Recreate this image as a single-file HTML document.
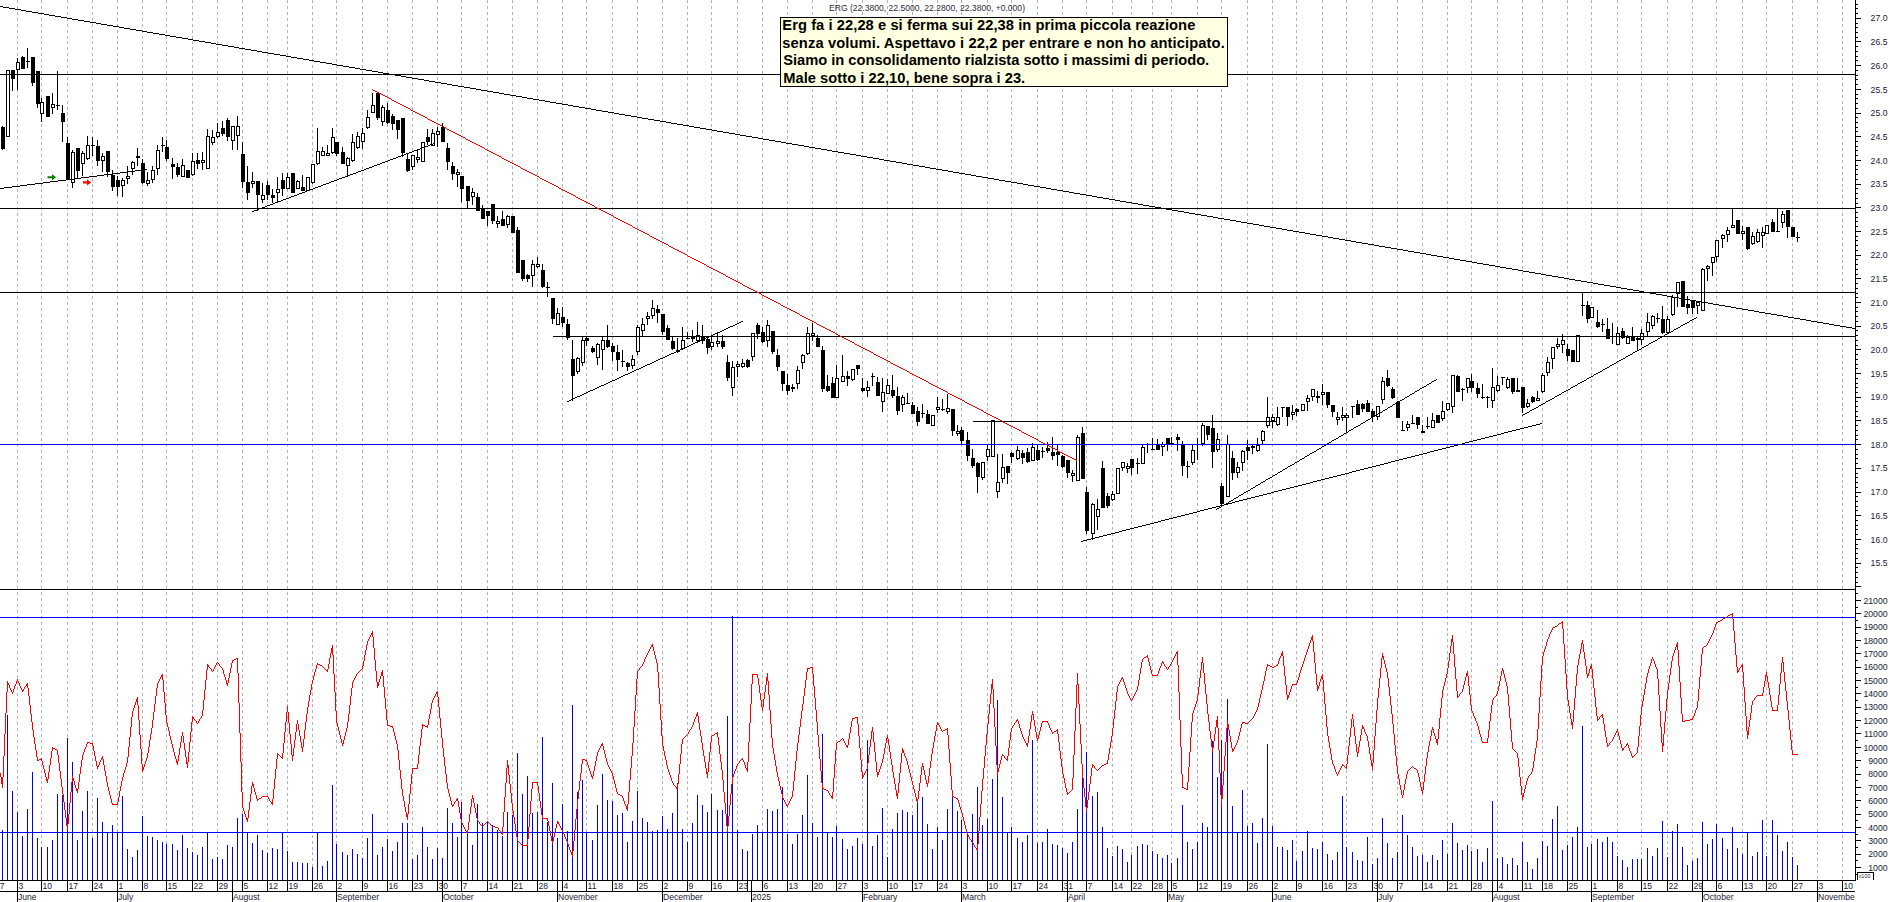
<!DOCTYPE html>
<html><head><meta charset="utf-8"><title>ERG</title>
<style>html,body{margin:0;padding:0;background:#fff;overflow:hidden}body{width:1890px;height:902px;position:relative}</style></head>
<body>
<svg width="1890" height="902" viewBox="0 0 1890 902" shape-rendering="crispEdges" style="display:block;position:absolute;left:0;top:0">
<rect x="0" y="0" width="1890" height="902" fill="#fff"/>
<g stroke="#b4b4b4" stroke-width="1" stroke-dasharray="3 2.92">
<line x1="17.5" y1="0" x2="17.5" y2="880"/>
<line x1="41.5" y1="0" x2="41.5" y2="880"/>
<line x1="67.5" y1="0" x2="67.5" y2="880"/>
<line x1="92.5" y1="0" x2="92.5" y2="880"/>
<line x1="117.5" y1="0" x2="117.5" y2="880"/>
<line x1="142.5" y1="0" x2="142.5" y2="880"/>
<line x1="166.5" y1="0" x2="166.5" y2="880"/>
<line x1="192.5" y1="0" x2="192.5" y2="880"/>
<line x1="217.5" y1="0" x2="217.5" y2="880"/>
<line x1="242.5" y1="0" x2="242.5" y2="880"/>
<line x1="267.5" y1="0" x2="267.5" y2="880"/>
<line x1="287.5" y1="0" x2="287.5" y2="880"/>
<line x1="312.5" y1="0" x2="312.5" y2="880"/>
<line x1="336.5" y1="0" x2="336.5" y2="880"/>
<line x1="362.5" y1="0" x2="362.5" y2="880"/>
<line x1="387.5" y1="0" x2="387.5" y2="880"/>
<line x1="412.5" y1="0" x2="412.5" y2="880"/>
<line x1="437.5" y1="0" x2="437.5" y2="880"/>
<line x1="461.5" y1="0" x2="461.5" y2="880"/>
<line x1="487.5" y1="0" x2="487.5" y2="880"/>
<line x1="512.5" y1="0" x2="512.5" y2="880"/>
<line x1="537.5" y1="0" x2="537.5" y2="880"/>
<line x1="562.5" y1="0" x2="562.5" y2="880"/>
<line x1="586.5" y1="0" x2="586.5" y2="880"/>
<line x1="612.5" y1="0" x2="612.5" y2="880"/>
<line x1="637.5" y1="0" x2="637.5" y2="880"/>
<line x1="662.5" y1="0" x2="662.5" y2="880"/>
<line x1="687.5" y1="0" x2="687.5" y2="880"/>
<line x1="711.5" y1="0" x2="711.5" y2="880"/>
<line x1="737.5" y1="0" x2="737.5" y2="880"/>
<line x1="762.5" y1="0" x2="762.5" y2="880"/>
<line x1="787.5" y1="0" x2="787.5" y2="880"/>
<line x1="812.5" y1="0" x2="812.5" y2="880"/>
<line x1="836.5" y1="0" x2="836.5" y2="880"/>
<line x1="862.5" y1="0" x2="862.5" y2="880"/>
<line x1="887.5" y1="0" x2="887.5" y2="880"/>
<line x1="912.5" y1="0" x2="912.5" y2="880"/>
<line x1="937.5" y1="0" x2="937.5" y2="880"/>
<line x1="961.5" y1="0" x2="961.5" y2="880"/>
<line x1="987.5" y1="0" x2="987.5" y2="880"/>
<line x1="1011.5" y1="0" x2="1011.5" y2="880"/>
<line x1="1037.5" y1="0" x2="1037.5" y2="880"/>
<line x1="1062.5" y1="0" x2="1062.5" y2="880"/>
<line x1="1086.5" y1="0" x2="1086.5" y2="880"/>
<line x1="1112.5" y1="0" x2="1112.5" y2="880"/>
<line x1="1131.5" y1="0" x2="1131.5" y2="880"/>
<line x1="1152.5" y1="0" x2="1152.5" y2="880"/>
<line x1="1171.5" y1="0" x2="1171.5" y2="880"/>
<line x1="1197.5" y1="0" x2="1197.5" y2="880"/>
<line x1="1221.5" y1="0" x2="1221.5" y2="880"/>
<line x1="1247.5" y1="0" x2="1247.5" y2="880"/>
<line x1="1272.5" y1="0" x2="1272.5" y2="880"/>
<line x1="1296.5" y1="0" x2="1296.5" y2="880"/>
<line x1="1322.5" y1="0" x2="1322.5" y2="880"/>
<line x1="1346.5" y1="0" x2="1346.5" y2="880"/>
<line x1="1372.5" y1="0" x2="1372.5" y2="880"/>
<line x1="1397.5" y1="0" x2="1397.5" y2="880"/>
<line x1="1422.5" y1="0" x2="1422.5" y2="880"/>
<line x1="1447.5" y1="0" x2="1447.5" y2="880"/>
<line x1="1471.5" y1="0" x2="1471.5" y2="880"/>
<line x1="1497.5" y1="0" x2="1497.5" y2="880"/>
<line x1="1522.5" y1="0" x2="1522.5" y2="880"/>
<line x1="1542.5" y1="0" x2="1542.5" y2="880"/>
<line x1="1567.5" y1="0" x2="1567.5" y2="880"/>
<line x1="1591.5" y1="0" x2="1591.5" y2="880"/>
<line x1="1617.5" y1="0" x2="1617.5" y2="880"/>
<line x1="1641.5" y1="0" x2="1641.5" y2="880"/>
<line x1="1667.5" y1="0" x2="1667.5" y2="880"/>
<line x1="1692.5" y1="0" x2="1692.5" y2="880"/>
<line x1="1716.5" y1="0" x2="1716.5" y2="880"/>
<line x1="1742.5" y1="0" x2="1742.5" y2="880"/>
<line x1="1766.5" y1="0" x2="1766.5" y2="880"/>
<line x1="1792.5" y1="0" x2="1792.5" y2="880"/>
<line x1="1817.5" y1="0" x2="1817.5" y2="880"/>
<line x1="1842.5" y1="0" x2="1842.5" y2="880"/>
</g>
<g fill="#000">
<rect x="2" y="126" width="1" height="24"/>
<rect x="1" y="127" width="4" height="22"/>
<rect x="7" y="70" width="1" height="67"/>
<rect x="6" y="70" width="4" height="67"/>
<rect x="12" y="70" width="1" height="21"/>
<rect x="11" y="70" width="4" height="9"/>
<rect x="17" y="58" width="1" height="32"/>
<rect x="16" y="62" width="4" height="8"/>
<rect x="22" y="56" width="1" height="13"/>
<rect x="21" y="57" width="4" height="12"/>
<rect x="27" y="48" width="1" height="20"/>
<rect x="26" y="61" width="4" height="1"/>
<rect x="32" y="57" width="1" height="29"/>
<rect x="31" y="57" width="4" height="26"/>
<rect x="37" y="71" width="1" height="37"/>
<rect x="36" y="71" width="4" height="33"/>
<rect x="41" y="98" width="1" height="24"/>
<rect x="40" y="102" width="4" height="12"/>
<rect x="47" y="96" width="1" height="21"/>
<rect x="46" y="96" width="4" height="21"/>
<rect x="52" y="93" width="1" height="21"/>
<rect x="51" y="104" width="4" height="4"/>
<rect x="57" y="71" width="1" height="39"/>
<rect x="56" y="105" width="4" height="1"/>
<rect x="62" y="105" width="1" height="37"/>
<rect x="61" y="113" width="4" height="9"/>
<rect x="67" y="137" width="1" height="43"/>
<rect x="66" y="143" width="4" height="37"/>
<rect x="72" y="150" width="1" height="38"/>
<rect x="71" y="152" width="4" height="31"/>
<rect x="77" y="148" width="1" height="31"/>
<rect x="76" y="148" width="4" height="23"/>
<rect x="82" y="151" width="1" height="25"/>
<rect x="81" y="153" width="4" height="11"/>
<rect x="87" y="136" width="1" height="24"/>
<rect x="86" y="145" width="4" height="14"/>
<rect x="92" y="137" width="1" height="19"/>
<rect x="91" y="145" width="4" height="1"/>
<rect x="97" y="140" width="1" height="26"/>
<rect x="96" y="146" width="4" height="15"/>
<rect x="102" y="153" width="1" height="19"/>
<rect x="101" y="156" width="4" height="5"/>
<rect x="107" y="151" width="1" height="26"/>
<rect x="106" y="151" width="4" height="21"/>
<rect x="112" y="170" width="1" height="21"/>
<rect x="111" y="175" width="4" height="12"/>
<rect x="117" y="176" width="1" height="20"/>
<rect x="116" y="180" width="4" height="7"/>
<rect x="122" y="178" width="1" height="19"/>
<rect x="121" y="180" width="4" height="6"/>
<rect x="127" y="166" width="1" height="18"/>
<rect x="126" y="176" width="4" height="3"/>
<rect x="132" y="161" width="1" height="14"/>
<rect x="131" y="162" width="4" height="7"/>
<rect x="137" y="148" width="1" height="18"/>
<rect x="136" y="156" width="4" height="2"/>
<rect x="142" y="159" width="1" height="25"/>
<rect x="141" y="163" width="4" height="20"/>
<rect x="147" y="172" width="1" height="14"/>
<rect x="146" y="180" width="4" height="4"/>
<rect x="152" y="166" width="1" height="17"/>
<rect x="151" y="170" width="4" height="10"/>
<rect x="157" y="145" width="1" height="30"/>
<rect x="156" y="150" width="4" height="19"/>
<rect x="162" y="137" width="1" height="15"/>
<rect x="161" y="145" width="4" height="1"/>
<rect x="166" y="140" width="1" height="21"/>
<rect x="165" y="147" width="4" height="12"/>
<rect x="172" y="158" width="1" height="21"/>
<rect x="171" y="164" width="4" height="3"/>
<rect x="177" y="163" width="1" height="14"/>
<rect x="176" y="167" width="4" height="8"/>
<rect x="182" y="159" width="1" height="18"/>
<rect x="181" y="165" width="4" height="12"/>
<rect x="187" y="170" width="1" height="8"/>
<rect x="186" y="170" width="4" height="8"/>
<rect x="192" y="153" width="1" height="23"/>
<rect x="191" y="161" width="4" height="14"/>
<rect x="197" y="153" width="1" height="16"/>
<rect x="196" y="160" width="4" height="4"/>
<rect x="202" y="152" width="1" height="18"/>
<rect x="201" y="160" width="4" height="3"/>
<rect x="207" y="129" width="1" height="40"/>
<rect x="206" y="136" width="4" height="33"/>
<rect x="212" y="130" width="1" height="15"/>
<rect x="211" y="137" width="4" height="6"/>
<rect x="217" y="123" width="1" height="15"/>
<rect x="216" y="132" width="4" height="5"/>
<rect x="222" y="121" width="1" height="15"/>
<rect x="221" y="128" width="4" height="6"/>
<rect x="227" y="118" width="1" height="23"/>
<rect x="226" y="120" width="4" height="17"/>
<rect x="232" y="126" width="1" height="24"/>
<rect x="231" y="126" width="4" height="15"/>
<rect x="237" y="116" width="1" height="34"/>
<rect x="236" y="126" width="4" height="10"/>
<rect x="242" y="142" width="1" height="46"/>
<rect x="241" y="154" width="4" height="28"/>
<rect x="247" y="166" width="1" height="34"/>
<rect x="246" y="182" width="4" height="11"/>
<rect x="252" y="172" width="1" height="16"/>
<rect x="251" y="181" width="4" height="3"/>
<rect x="257" y="181" width="1" height="30"/>
<rect x="256" y="181" width="4" height="14"/>
<rect x="262" y="183" width="1" height="20"/>
<rect x="261" y="195" width="4" height="5"/>
<rect x="267" y="181" width="1" height="19"/>
<rect x="266" y="185" width="4" height="10"/>
<rect x="272" y="189" width="1" height="14"/>
<rect x="271" y="195" width="4" height="3"/>
<rect x="277" y="177" width="1" height="25"/>
<rect x="276" y="189" width="4" height="4"/>
<rect x="282" y="173" width="1" height="23"/>
<rect x="281" y="180" width="4" height="9"/>
<rect x="287" y="173" width="1" height="16"/>
<rect x="286" y="177" width="4" height="12"/>
<rect x="292" y="173" width="1" height="20"/>
<rect x="291" y="173" width="4" height="20"/>
<rect x="297" y="180" width="1" height="9"/>
<rect x="296" y="181" width="4" height="8"/>
<rect x="302" y="175" width="1" height="16"/>
<rect x="301" y="187" width="4" height="4"/>
<rect x="307" y="177" width="1" height="14"/>
<rect x="306" y="177" width="4" height="14"/>
<rect x="312" y="164" width="1" height="20"/>
<rect x="311" y="164" width="4" height="19"/>
<rect x="317" y="128" width="1" height="37"/>
<rect x="316" y="151" width="4" height="13"/>
<rect x="322" y="147" width="1" height="9"/>
<rect x="321" y="151" width="4" height="5"/>
<rect x="327" y="145" width="1" height="11"/>
<rect x="326" y="153" width="4" height="3"/>
<rect x="332" y="128" width="1" height="26"/>
<rect x="331" y="137" width="4" height="16"/>
<rect x="336" y="142" width="1" height="14"/>
<rect x="335" y="142" width="4" height="12"/>
<rect x="342" y="147" width="1" height="17"/>
<rect x="341" y="152" width="4" height="12"/>
<rect x="347" y="157" width="1" height="20"/>
<rect x="346" y="158" width="4" height="8"/>
<rect x="352" y="134" width="1" height="28"/>
<rect x="351" y="142" width="4" height="19"/>
<rect x="357" y="132" width="1" height="17"/>
<rect x="356" y="136" width="4" height="12"/>
<rect x="362" y="128" width="1" height="21"/>
<rect x="361" y="133" width="4" height="9"/>
<rect x="367" y="110" width="1" height="19"/>
<rect x="366" y="117" width="4" height="11"/>
<rect x="372" y="93" width="1" height="20"/>
<rect x="371" y="105" width="4" height="8"/>
<rect x="377" y="93" width="1" height="27"/>
<rect x="376" y="93" width="4" height="25"/>
<rect x="382" y="105" width="1" height="21"/>
<rect x="381" y="107" width="4" height="15"/>
<rect x="387" y="103" width="1" height="21"/>
<rect x="386" y="110" width="4" height="13"/>
<rect x="392" y="114" width="1" height="16"/>
<rect x="391" y="116" width="4" height="8"/>
<rect x="397" y="120" width="1" height="19"/>
<rect x="396" y="120" width="4" height="10"/>
<rect x="402" y="118" width="1" height="39"/>
<rect x="401" y="118" width="4" height="35"/>
<rect x="407" y="154" width="1" height="18"/>
<rect x="406" y="159" width="4" height="12"/>
<rect x="412" y="155" width="1" height="15"/>
<rect x="411" y="155" width="4" height="12"/>
<rect x="417" y="150" width="1" height="13"/>
<rect x="416" y="157" width="4" height="3"/>
<rect x="422" y="142" width="1" height="20"/>
<rect x="421" y="142" width="4" height="20"/>
<rect x="427" y="129" width="1" height="16"/>
<rect x="426" y="137" width="4" height="5"/>
<rect x="432" y="129" width="1" height="17"/>
<rect x="431" y="133" width="4" height="13"/>
<rect x="437" y="127" width="1" height="20"/>
<rect x="436" y="131" width="4" height="4"/>
<rect x="442" y="123" width="1" height="19"/>
<rect x="441" y="127" width="4" height="15"/>
<rect x="447" y="143" width="1" height="27"/>
<rect x="446" y="148" width="4" height="14"/>
<rect x="452" y="162" width="1" height="18"/>
<rect x="451" y="166" width="4" height="8"/>
<rect x="457" y="169" width="1" height="18"/>
<rect x="456" y="172" width="4" height="3"/>
<rect x="461" y="176" width="1" height="26"/>
<rect x="460" y="176" width="4" height="13"/>
<rect x="467" y="186" width="1" height="22"/>
<rect x="466" y="186" width="4" height="15"/>
<rect x="472" y="188" width="1" height="17"/>
<rect x="471" y="192" width="4" height="5"/>
<rect x="477" y="193" width="1" height="18"/>
<rect x="476" y="197" width="4" height="14"/>
<rect x="482" y="205" width="1" height="14"/>
<rect x="481" y="208" width="4" height="11"/>
<rect x="487" y="211" width="1" height="15"/>
<rect x="486" y="211" width="4" height="5"/>
<rect x="492" y="204" width="1" height="20"/>
<rect x="491" y="204" width="4" height="17"/>
<rect x="497" y="216" width="1" height="12"/>
<rect x="496" y="221" width="4" height="3"/>
<rect x="502" y="211" width="1" height="15"/>
<rect x="501" y="219" width="4" height="7"/>
<rect x="507" y="215" width="1" height="13"/>
<rect x="506" y="216" width="4" height="9"/>
<rect x="512" y="216" width="1" height="17"/>
<rect x="511" y="216" width="4" height="17"/>
<rect x="517" y="227" width="1" height="46"/>
<rect x="516" y="230" width="4" height="43"/>
<rect x="522" y="260" width="1" height="21"/>
<rect x="521" y="260" width="4" height="19"/>
<rect x="527" y="274" width="1" height="8"/>
<rect x="526" y="275" width="4" height="4"/>
<rect x="532" y="260" width="1" height="27"/>
<rect x="531" y="264" width="4" height="12"/>
<rect x="537" y="257" width="1" height="11"/>
<rect x="536" y="264" width="4" height="3"/>
<rect x="542" y="264" width="1" height="24"/>
<rect x="541" y="270" width="4" height="17"/>
<rect x="547" y="282" width="1" height="15"/>
<rect x="546" y="287" width="4" height="1"/>
<rect x="552" y="298" width="1" height="26"/>
<rect x="551" y="298" width="4" height="21"/>
<rect x="557" y="308" width="1" height="17"/>
<rect x="556" y="313" width="4" height="12"/>
<rect x="562" y="307" width="1" height="20"/>
<rect x="561" y="317" width="4" height="6"/>
<rect x="567" y="319" width="1" height="21"/>
<rect x="566" y="324" width="4" height="14"/>
<rect x="572" y="340" width="1" height="61"/>
<rect x="571" y="359" width="4" height="17"/>
<rect x="577" y="357" width="1" height="17"/>
<rect x="576" y="358" width="4" height="14"/>
<rect x="582" y="337" width="1" height="29"/>
<rect x="581" y="340" width="4" height="23"/>
<rect x="586" y="337" width="1" height="9"/>
<rect x="585" y="338" width="4" height="3"/>
<rect x="592" y="346" width="1" height="7"/>
<rect x="591" y="348" width="4" height="4"/>
<rect x="597" y="343" width="1" height="22"/>
<rect x="596" y="344" width="4" height="14"/>
<rect x="602" y="336" width="1" height="34"/>
<rect x="601" y="340" width="4" height="10"/>
<rect x="607" y="325" width="1" height="23"/>
<rect x="606" y="340" width="4" height="7"/>
<rect x="612" y="343" width="1" height="18"/>
<rect x="611" y="346" width="4" height="6"/>
<rect x="617" y="345" width="1" height="26"/>
<rect x="616" y="352" width="4" height="8"/>
<rect x="622" y="350" width="1" height="17"/>
<rect x="621" y="361" width="4" height="1"/>
<rect x="627" y="362" width="1" height="9"/>
<rect x="626" y="363" width="4" height="4"/>
<rect x="632" y="355" width="1" height="14"/>
<rect x="631" y="359" width="4" height="7"/>
<rect x="637" y="325" width="1" height="30"/>
<rect x="636" y="327" width="4" height="25"/>
<rect x="642" y="318" width="1" height="18"/>
<rect x="641" y="324" width="4" height="7"/>
<rect x="647" y="312" width="1" height="13"/>
<rect x="646" y="316" width="4" height="3"/>
<rect x="652" y="300" width="1" height="19"/>
<rect x="651" y="308" width="4" height="8"/>
<rect x="657" y="305" width="1" height="18"/>
<rect x="656" y="309" width="4" height="4"/>
<rect x="662" y="314" width="1" height="21"/>
<rect x="661" y="314" width="4" height="18"/>
<rect x="667" y="325" width="1" height="15"/>
<rect x="666" y="328" width="4" height="12"/>
<rect x="672" y="337" width="1" height="13"/>
<rect x="671" y="341" width="4" height="8"/>
<rect x="677" y="338" width="1" height="15"/>
<rect x="676" y="350" width="4" height="2"/>
<rect x="682" y="327" width="1" height="23"/>
<rect x="681" y="340" width="4" height="9"/>
<rect x="687" y="332" width="1" height="7"/>
<rect x="686" y="338" width="4" height="1"/>
<rect x="692" y="330" width="1" height="12"/>
<rect x="691" y="337" width="4" height="2"/>
<rect x="697" y="322" width="1" height="20"/>
<rect x="696" y="335" width="4" height="6"/>
<rect x="702" y="325" width="1" height="19"/>
<rect x="701" y="337" width="4" height="4"/>
<rect x="707" y="337" width="1" height="17"/>
<rect x="706" y="339" width="4" height="9"/>
<rect x="711" y="335" width="1" height="15"/>
<rect x="710" y="342" width="4" height="5"/>
<rect x="717" y="332" width="1" height="15"/>
<rect x="716" y="341" width="4" height="3"/>
<rect x="722" y="335" width="1" height="14"/>
<rect x="721" y="341" width="4" height="6"/>
<rect x="727" y="355" width="1" height="26"/>
<rect x="726" y="362" width="4" height="16"/>
<rect x="732" y="361" width="1" height="35"/>
<rect x="731" y="367" width="4" height="21"/>
<rect x="737" y="361" width="1" height="16"/>
<rect x="736" y="364" width="4" height="3"/>
<rect x="742" y="359" width="1" height="9"/>
<rect x="741" y="363" width="4" height="4"/>
<rect x="747" y="359" width="1" height="9"/>
<rect x="746" y="360" width="4" height="7"/>
<rect x="752" y="333" width="1" height="28"/>
<rect x="751" y="333" width="4" height="24"/>
<rect x="757" y="323" width="1" height="16"/>
<rect x="756" y="325" width="4" height="9"/>
<rect x="762" y="327" width="1" height="16"/>
<rect x="761" y="332" width="4" height="10"/>
<rect x="767" y="320" width="1" height="27"/>
<rect x="766" y="325" width="4" height="16"/>
<rect x="772" y="331" width="1" height="23"/>
<rect x="771" y="331" width="4" height="21"/>
<rect x="777" y="349" width="1" height="22"/>
<rect x="776" y="355" width="4" height="12"/>
<rect x="782" y="371" width="1" height="20"/>
<rect x="781" y="371" width="4" height="13"/>
<rect x="787" y="374" width="1" height="21"/>
<rect x="786" y="385" width="4" height="6"/>
<rect x="792" y="384" width="1" height="8"/>
<rect x="791" y="387" width="4" height="2"/>
<rect x="797" y="366" width="1" height="23"/>
<rect x="796" y="370" width="4" height="14"/>
<rect x="802" y="354" width="1" height="15"/>
<rect x="801" y="355" width="4" height="8"/>
<rect x="807" y="327" width="1" height="28"/>
<rect x="806" y="333" width="4" height="21"/>
<rect x="812" y="323" width="1" height="18"/>
<rect x="811" y="333" width="4" height="3"/>
<rect x="817" y="335" width="1" height="12"/>
<rect x="816" y="338" width="4" height="9"/>
<rect x="822" y="346" width="1" height="46"/>
<rect x="821" y="350" width="4" height="39"/>
<rect x="827" y="375" width="1" height="17"/>
<rect x="826" y="386" width="4" height="5"/>
<rect x="832" y="377" width="1" height="21"/>
<rect x="831" y="383" width="4" height="15"/>
<rect x="836" y="365" width="1" height="33"/>
<rect x="835" y="378" width="4" height="20"/>
<rect x="842" y="355" width="1" height="27"/>
<rect x="841" y="376" width="4" height="6"/>
<rect x="847" y="371" width="1" height="15"/>
<rect x="846" y="376" width="4" height="3"/>
<rect x="852" y="369" width="1" height="12"/>
<rect x="851" y="369" width="4" height="11"/>
<rect x="857" y="365" width="1" height="10"/>
<rect x="856" y="365" width="4" height="4"/>
<rect x="862" y="378" width="1" height="14"/>
<rect x="861" y="388" width="4" height="3"/>
<rect x="867" y="381" width="1" height="16"/>
<rect x="866" y="387" width="4" height="4"/>
<rect x="872" y="373" width="1" height="13"/>
<rect x="871" y="376" width="4" height="1"/>
<rect x="877" y="377" width="1" height="19"/>
<rect x="876" y="382" width="4" height="14"/>
<rect x="882" y="378" width="1" height="34"/>
<rect x="881" y="392" width="4" height="10"/>
<rect x="887" y="379" width="1" height="15"/>
<rect x="886" y="385" width="4" height="9"/>
<rect x="892" y="375" width="1" height="23"/>
<rect x="891" y="390" width="4" height="6"/>
<rect x="897" y="387" width="1" height="28"/>
<rect x="896" y="396" width="4" height="15"/>
<rect x="902" y="395" width="1" height="17"/>
<rect x="901" y="397" width="4" height="8"/>
<rect x="907" y="393" width="1" height="11"/>
<rect x="906" y="403" width="4" height="1"/>
<rect x="912" y="402" width="1" height="12"/>
<rect x="911" y="405" width="4" height="9"/>
<rect x="917" y="407" width="1" height="19"/>
<rect x="916" y="411" width="4" height="11"/>
<rect x="922" y="404" width="1" height="14"/>
<rect x="921" y="413" width="4" height="1"/>
<rect x="927" y="410" width="1" height="14"/>
<rect x="926" y="414" width="4" height="10"/>
<rect x="932" y="415" width="1" height="11"/>
<rect x="931" y="415" width="4" height="11"/>
<rect x="937" y="397" width="1" height="16"/>
<rect x="936" y="407" width="4" height="3"/>
<rect x="942" y="399" width="1" height="12"/>
<rect x="941" y="409" width="4" height="1"/>
<rect x="947" y="394" width="1" height="20"/>
<rect x="946" y="408" width="4" height="4"/>
<rect x="952" y="409" width="1" height="27"/>
<rect x="951" y="409" width="4" height="22"/>
<rect x="957" y="425" width="1" height="11"/>
<rect x="956" y="431" width="4" height="3"/>
<rect x="961" y="427" width="1" height="17"/>
<rect x="960" y="430" width="4" height="11"/>
<rect x="967" y="432" width="1" height="29"/>
<rect x="966" y="440" width="4" height="16"/>
<rect x="972" y="449" width="1" height="19"/>
<rect x="971" y="458" width="4" height="8"/>
<rect x="977" y="462" width="1" height="31"/>
<rect x="976" y="463" width="4" height="14"/>
<rect x="982" y="462" width="1" height="18"/>
<rect x="981" y="462" width="4" height="16"/>
<rect x="987" y="445" width="1" height="16"/>
<rect x="986" y="449" width="4" height="8"/>
<rect x="992" y="420" width="1" height="37"/>
<rect x="991" y="420" width="4" height="37"/>
<rect x="997" y="454" width="1" height="44"/>
<rect x="996" y="482" width="4" height="10"/>
<rect x="1002" y="454" width="1" height="29"/>
<rect x="1001" y="467" width="4" height="12"/>
<rect x="1007" y="466" width="1" height="18"/>
<rect x="1006" y="466" width="4" height="7"/>
<rect x="1011" y="452" width="1" height="11"/>
<rect x="1010" y="453" width="4" height="4"/>
<rect x="1017" y="446" width="1" height="14"/>
<rect x="1016" y="450" width="4" height="9"/>
<rect x="1022" y="450" width="1" height="14"/>
<rect x="1021" y="453" width="4" height="5"/>
<rect x="1027" y="448" width="1" height="15"/>
<rect x="1026" y="452" width="4" height="10"/>
<rect x="1032" y="443" width="1" height="18"/>
<rect x="1031" y="447" width="4" height="14"/>
<rect x="1037" y="445" width="1" height="16"/>
<rect x="1036" y="450" width="4" height="10"/>
<rect x="1042" y="447" width="1" height="11"/>
<rect x="1041" y="451" width="4" height="1"/>
<rect x="1047" y="442" width="1" height="11"/>
<rect x="1046" y="448" width="4" height="3"/>
<rect x="1052" y="437" width="1" height="23"/>
<rect x="1051" y="452" width="4" height="4"/>
<rect x="1057" y="445" width="1" height="21"/>
<rect x="1056" y="452" width="4" height="3"/>
<rect x="1062" y="455" width="1" height="13"/>
<rect x="1061" y="456" width="4" height="11"/>
<rect x="1067" y="460" width="1" height="18"/>
<rect x="1066" y="460" width="4" height="13"/>
<rect x="1072" y="470" width="1" height="12"/>
<rect x="1071" y="473" width="4" height="3"/>
<rect x="1077" y="435" width="1" height="46"/>
<rect x="1076" y="437" width="4" height="44"/>
<rect x="1082" y="427" width="1" height="52"/>
<rect x="1081" y="433" width="4" height="46"/>
<rect x="1086" y="487" width="1" height="47"/>
<rect x="1085" y="492" width="4" height="39"/>
<rect x="1092" y="503" width="1" height="37"/>
<rect x="1091" y="504" width="4" height="30"/>
<rect x="1097" y="499" width="1" height="31"/>
<rect x="1096" y="509" width="4" height="8"/>
<rect x="1102" y="461" width="1" height="47"/>
<rect x="1101" y="468" width="4" height="40"/>
<rect x="1107" y="493" width="1" height="15"/>
<rect x="1106" y="496" width="4" height="10"/>
<rect x="1112" y="491" width="1" height="10"/>
<rect x="1111" y="494" width="4" height="6"/>
<rect x="1117" y="468" width="1" height="26"/>
<rect x="1116" y="468" width="4" height="26"/>
<rect x="1122" y="462" width="1" height="9"/>
<rect x="1121" y="462" width="4" height="6"/>
<rect x="1127" y="463" width="1" height="10"/>
<rect x="1126" y="466" width="4" height="3"/>
<rect x="1131" y="459" width="1" height="16"/>
<rect x="1130" y="459" width="4" height="9"/>
<rect x="1137" y="458" width="1" height="16"/>
<rect x="1136" y="463" width="4" height="1"/>
<rect x="1142" y="445" width="1" height="19"/>
<rect x="1141" y="447" width="4" height="17"/>
<rect x="1147" y="443" width="1" height="10"/>
<rect x="1152" y="438" width="1" height="12"/>
<rect x="1151" y="449" width="4" height="1"/>
<rect x="1157" y="439" width="1" height="11"/>
<rect x="1156" y="445" width="4" height="5"/>
<rect x="1162" y="442" width="1" height="14"/>
<rect x="1161" y="444" width="4" height="3"/>
<rect x="1167" y="438" width="1" height="13"/>
<rect x="1166" y="438" width="4" height="6"/>
<rect x="1171" y="437" width="1" height="7"/>
<rect x="1170" y="443" width="4" height="1"/>
<rect x="1177" y="434" width="1" height="17"/>
<rect x="1176" y="437" width="4" height="3"/>
<rect x="1182" y="441" width="1" height="35"/>
<rect x="1181" y="445" width="4" height="21"/>
<rect x="1187" y="461" width="1" height="17"/>
<rect x="1186" y="466" width="4" height="1"/>
<rect x="1192" y="445" width="1" height="20"/>
<rect x="1191" y="450" width="4" height="13"/>
<rect x="1197" y="438" width="1" height="22"/>
<rect x="1196" y="444" width="4" height="1"/>
<rect x="1202" y="423" width="1" height="23"/>
<rect x="1201" y="425" width="4" height="19"/>
<rect x="1207" y="426" width="1" height="14"/>
<rect x="1206" y="426" width="4" height="9"/>
<rect x="1212" y="415" width="1" height="53"/>
<rect x="1211" y="428" width="4" height="24"/>
<rect x="1217" y="433" width="1" height="19"/>
<rect x="1216" y="439" width="4" height="11"/>
<rect x="1221" y="483" width="1" height="23"/>
<rect x="1220" y="486" width="4" height="18"/>
<rect x="1227" y="435" width="1" height="62"/>
<rect x="1226" y="444" width="4" height="53"/>
<rect x="1232" y="451" width="1" height="29"/>
<rect x="1231" y="458" width="4" height="15"/>
<rect x="1237" y="462" width="1" height="16"/>
<rect x="1236" y="467" width="4" height="6"/>
<rect x="1242" y="450" width="1" height="21"/>
<rect x="1241" y="451" width="4" height="12"/>
<rect x="1247" y="440" width="1" height="20"/>
<rect x="1246" y="447" width="4" height="4"/>
<rect x="1252" y="445" width="1" height="9"/>
<rect x="1251" y="446" width="4" height="2"/>
<rect x="1257" y="438" width="1" height="14"/>
<rect x="1256" y="445" width="4" height="6"/>
<rect x="1262" y="430" width="1" height="14"/>
<rect x="1261" y="431" width="4" height="10"/>
<rect x="1267" y="397" width="1" height="31"/>
<rect x="1266" y="417" width="4" height="9"/>
<rect x="1272" y="414" width="1" height="14"/>
<rect x="1271" y="417" width="4" height="4"/>
<rect x="1277" y="407" width="1" height="19"/>
<rect x="1276" y="417" width="4" height="8"/>
<rect x="1282" y="407" width="1" height="10"/>
<rect x="1281" y="407" width="4" height="1"/>
<rect x="1287" y="407" width="1" height="19"/>
<rect x="1286" y="407" width="4" height="10"/>
<rect x="1292" y="405" width="1" height="15"/>
<rect x="1291" y="412" width="4" height="3"/>
<rect x="1296" y="408" width="1" height="8"/>
<rect x="1295" y="409" width="4" height="3"/>
<rect x="1302" y="404" width="1" height="7"/>
<rect x="1301" y="404" width="4" height="7"/>
<rect x="1307" y="395" width="1" height="16"/>
<rect x="1306" y="398" width="4" height="4"/>
<rect x="1312" y="389" width="1" height="12"/>
<rect x="1311" y="389" width="4" height="8"/>
<rect x="1317" y="391" width="1" height="12"/>
<rect x="1316" y="396" width="4" height="2"/>
<rect x="1322" y="384" width="1" height="21"/>
<rect x="1321" y="392" width="4" height="3"/>
<rect x="1327" y="392" width="1" height="16"/>
<rect x="1326" y="392" width="4" height="13"/>
<rect x="1332" y="405" width="1" height="12"/>
<rect x="1331" y="405" width="4" height="7"/>
<rect x="1337" y="412" width="1" height="13"/>
<rect x="1336" y="417" width="4" height="3"/>
<rect x="1342" y="407" width="1" height="14"/>
<rect x="1341" y="415" width="4" height="3"/>
<rect x="1346" y="413" width="1" height="19"/>
<rect x="1345" y="415" width="4" height="3"/>
<rect x="1352" y="406" width="1" height="12"/>
<rect x="1351" y="406" width="4" height="1"/>
<rect x="1357" y="400" width="1" height="15"/>
<rect x="1356" y="404" width="4" height="11"/>
<rect x="1362" y="403" width="1" height="9"/>
<rect x="1361" y="404" width="4" height="5"/>
<rect x="1367" y="400" width="1" height="12"/>
<rect x="1366" y="403" width="4" height="9"/>
<rect x="1372" y="409" width="1" height="13"/>
<rect x="1371" y="411" width="4" height="6"/>
<rect x="1377" y="406" width="1" height="14"/>
<rect x="1376" y="406" width="4" height="11"/>
<rect x="1382" y="377" width="1" height="27"/>
<rect x="1381" y="381" width="4" height="19"/>
<rect x="1387" y="370" width="1" height="17"/>
<rect x="1386" y="378" width="4" height="8"/>
<rect x="1392" y="387" width="1" height="12"/>
<rect x="1391" y="389" width="4" height="9"/>
<rect x="1397" y="401" width="1" height="17"/>
<rect x="1396" y="402" width="4" height="16"/>
<rect x="1402" y="421" width="1" height="10"/>
<rect x="1401" y="430" width="4" height="1"/>
<rect x="1407" y="421" width="1" height="10"/>
<rect x="1406" y="424" width="4" height="4"/>
<rect x="1412" y="415" width="1" height="9"/>
<rect x="1411" y="423" width="4" height="1"/>
<rect x="1417" y="417" width="1" height="12"/>
<rect x="1416" y="417" width="4" height="8"/>
<rect x="1422" y="425" width="1" height="8"/>
<rect x="1421" y="431" width="4" height="2"/>
<rect x="1427" y="417" width="1" height="12"/>
<rect x="1426" y="426" width="4" height="1"/>
<rect x="1432" y="413" width="1" height="15"/>
<rect x="1431" y="420" width="4" height="8"/>
<rect x="1437" y="415" width="1" height="8"/>
<rect x="1436" y="415" width="4" height="8"/>
<rect x="1442" y="401" width="1" height="20"/>
<rect x="1441" y="411" width="4" height="8"/>
<rect x="1447" y="403" width="1" height="8"/>
<rect x="1446" y="403" width="4" height="7"/>
<rect x="1452" y="375" width="1" height="38"/>
<rect x="1451" y="375" width="4" height="32"/>
<rect x="1457" y="375" width="1" height="17"/>
<rect x="1456" y="376" width="4" height="16"/>
<rect x="1462" y="388" width="1" height="13"/>
<rect x="1461" y="389" width="4" height="1"/>
<rect x="1467" y="378" width="1" height="15"/>
<rect x="1466" y="378" width="4" height="10"/>
<rect x="1471" y="374" width="1" height="18"/>
<rect x="1470" y="381" width="4" height="7"/>
<rect x="1477" y="383" width="1" height="15"/>
<rect x="1476" y="388" width="4" height="6"/>
<rect x="1482" y="384" width="1" height="15"/>
<rect x="1481" y="397" width="4" height="1"/>
<rect x="1487" y="396" width="1" height="12"/>
<rect x="1486" y="397" width="4" height="1"/>
<rect x="1492" y="368" width="1" height="40"/>
<rect x="1491" y="387" width="4" height="14"/>
<rect x="1497" y="376" width="1" height="16"/>
<rect x="1496" y="385" width="4" height="6"/>
<rect x="1502" y="377" width="1" height="8"/>
<rect x="1501" y="377" width="4" height="1"/>
<rect x="1507" y="377" width="1" height="12"/>
<rect x="1506" y="379" width="4" height="9"/>
<rect x="1512" y="378" width="1" height="16"/>
<rect x="1511" y="378" width="4" height="14"/>
<rect x="1517" y="378" width="1" height="14"/>
<rect x="1516" y="390" width="4" height="2"/>
<rect x="1522" y="387" width="1" height="26"/>
<rect x="1521" y="387" width="4" height="21"/>
<rect x="1527" y="399" width="1" height="9"/>
<rect x="1526" y="403" width="4" height="4"/>
<rect x="1532" y="396" width="1" height="7"/>
<rect x="1531" y="397" width="4" height="5"/>
<rect x="1537" y="391" width="1" height="10"/>
<rect x="1536" y="398" width="4" height="3"/>
<rect x="1542" y="373" width="1" height="20"/>
<rect x="1541" y="375" width="4" height="17"/>
<rect x="1547" y="357" width="1" height="19"/>
<rect x="1546" y="362" width="4" height="11"/>
<rect x="1552" y="347" width="1" height="22"/>
<rect x="1551" y="347" width="4" height="12"/>
<rect x="1557" y="338" width="1" height="11"/>
<rect x="1556" y="344" width="4" height="3"/>
<rect x="1562" y="334" width="1" height="19"/>
<rect x="1561" y="340" width="4" height="5"/>
<rect x="1567" y="344" width="1" height="17"/>
<rect x="1566" y="349" width="4" height="7"/>
<rect x="1572" y="350" width="1" height="12"/>
<rect x="1571" y="350" width="4" height="12"/>
<rect x="1577" y="335" width="1" height="27"/>
<rect x="1576" y="335" width="4" height="27"/>
<rect x="1582" y="293" width="1" height="23"/>
<rect x="1581" y="305" width="4" height="1"/>
<rect x="1587" y="301" width="1" height="22"/>
<rect x="1586" y="305" width="4" height="14"/>
<rect x="1591" y="307" width="1" height="11"/>
<rect x="1590" y="307" width="4" height="11"/>
<rect x="1597" y="310" width="1" height="18"/>
<rect x="1596" y="322" width="4" height="5"/>
<rect x="1602" y="319" width="1" height="13"/>
<rect x="1601" y="324" width="4" height="1"/>
<rect x="1607" y="318" width="1" height="21"/>
<rect x="1606" y="329" width="4" height="10"/>
<rect x="1612" y="323" width="1" height="21"/>
<rect x="1617" y="327" width="1" height="18"/>
<rect x="1616" y="333" width="4" height="12"/>
<rect x="1622" y="328" width="1" height="11"/>
<rect x="1621" y="331" width="4" height="7"/>
<rect x="1627" y="335" width="1" height="9"/>
<rect x="1626" y="337" width="4" height="7"/>
<rect x="1632" y="327" width="1" height="14"/>
<rect x="1631" y="336" width="4" height="5"/>
<rect x="1637" y="337" width="1" height="13"/>
<rect x="1636" y="338" width="4" height="2"/>
<rect x="1641" y="329" width="1" height="16"/>
<rect x="1640" y="333" width="4" height="7"/>
<rect x="1647" y="313" width="1" height="24"/>
<rect x="1646" y="322" width="4" height="10"/>
<rect x="1652" y="315" width="1" height="14"/>
<rect x="1651" y="316" width="4" height="10"/>
<rect x="1657" y="313" width="1" height="10"/>
<rect x="1656" y="318" width="4" height="1"/>
<rect x="1662" y="306" width="1" height="28"/>
<rect x="1661" y="319" width="4" height="14"/>
<rect x="1667" y="316" width="1" height="17"/>
<rect x="1666" y="319" width="4" height="14"/>
<rect x="1672" y="295" width="1" height="21"/>
<rect x="1671" y="297" width="4" height="18"/>
<rect x="1677" y="282" width="1" height="25"/>
<rect x="1676" y="282" width="4" height="12"/>
<rect x="1682" y="281" width="1" height="26"/>
<rect x="1681" y="281" width="4" height="26"/>
<rect x="1687" y="296" width="1" height="18"/>
<rect x="1686" y="304" width="4" height="4"/>
<rect x="1692" y="301" width="1" height="13"/>
<rect x="1691" y="301" width="4" height="7"/>
<rect x="1697" y="301" width="1" height="13"/>
<rect x="1696" y="302" width="4" height="4"/>
<rect x="1702" y="268" width="1" height="43"/>
<rect x="1701" y="269" width="4" height="42"/>
<rect x="1707" y="265" width="1" height="16"/>
<rect x="1706" y="266" width="4" height="3"/>
<rect x="1712" y="257" width="1" height="19"/>
<rect x="1711" y="257" width="4" height="6"/>
<rect x="1716" y="240" width="1" height="22"/>
<rect x="1715" y="240" width="4" height="17"/>
<rect x="1722" y="234" width="1" height="14"/>
<rect x="1721" y="235" width="4" height="4"/>
<rect x="1727" y="227" width="1" height="15"/>
<rect x="1726" y="230" width="4" height="5"/>
<rect x="1732" y="208" width="1" height="19"/>
<rect x="1731" y="225" width="4" height="3"/>
<rect x="1737" y="220" width="1" height="14"/>
<rect x="1736" y="220" width="4" height="14"/>
<rect x="1742" y="226" width="1" height="14"/>
<rect x="1741" y="231" width="4" height="3"/>
<rect x="1747" y="227" width="1" height="23"/>
<rect x="1746" y="227" width="4" height="22"/>
<rect x="1752" y="232" width="1" height="13"/>
<rect x="1751" y="236" width="4" height="8"/>
<rect x="1757" y="229" width="1" height="14"/>
<rect x="1756" y="232" width="4" height="10"/>
<rect x="1762" y="227" width="1" height="21"/>
<rect x="1761" y="232" width="4" height="4"/>
<rect x="1766" y="225" width="1" height="9"/>
<rect x="1765" y="225" width="4" height="9"/>
<rect x="1772" y="219" width="1" height="13"/>
<rect x="1771" y="222" width="4" height="10"/>
<rect x="1777" y="208" width="1" height="24"/>
<rect x="1776" y="231" width="4" height="1"/>
<rect x="1782" y="211" width="1" height="17"/>
<rect x="1781" y="214" width="4" height="9"/>
<rect x="1787" y="210" width="1" height="28"/>
<rect x="1786" y="210" width="4" height="17"/>
<rect x="1792" y="227" width="1" height="10"/>
<rect x="1791" y="227" width="4" height="10"/>
<rect x="1797" y="232" width="1" height="10"/>
<rect x="1796" y="237" width="4" height="1"/>
</g>
<g fill="#fff"><rect x="7" y="71" width="2" height="65"/><rect x="17" y="63" width="2" height="6"/><rect x="41" y="103" width="2" height="10"/><rect x="52" y="105" width="2" height="2"/><rect x="72" y="153" width="2" height="29"/><rect x="82" y="154" width="2" height="9"/><rect x="87" y="146" width="2" height="12"/><rect x="102" y="157" width="2" height="3"/><rect x="122" y="181" width="2" height="4"/><rect x="127" y="177" width="2" height="1"/><rect x="132" y="163" width="2" height="5"/><rect x="147" y="181" width="2" height="2"/><rect x="152" y="171" width="2" height="8"/><rect x="157" y="151" width="2" height="17"/><rect x="182" y="166" width="2" height="10"/><rect x="192" y="162" width="2" height="12"/><rect x="202" y="161" width="2" height="1"/><rect x="207" y="137" width="2" height="31"/><rect x="212" y="138" width="2" height="4"/><rect x="217" y="133" width="2" height="3"/><rect x="232" y="127" width="2" height="13"/><rect x="237" y="127" width="2" height="8"/><rect x="252" y="182" width="2" height="1"/><rect x="262" y="196" width="2" height="3"/><rect x="277" y="190" width="2" height="2"/><rect x="287" y="178" width="2" height="10"/><rect x="297" y="182" width="2" height="6"/><rect x="307" y="178" width="2" height="12"/><rect x="312" y="165" width="2" height="17"/><rect x="317" y="152" width="2" height="11"/><rect x="322" y="152" width="2" height="3"/><rect x="327" y="154" width="2" height="1"/><rect x="332" y="138" width="2" height="14"/><rect x="347" y="159" width="2" height="6"/><rect x="352" y="143" width="2" height="17"/><rect x="357" y="137" width="2" height="10"/><rect x="362" y="134" width="2" height="7"/><rect x="367" y="118" width="2" height="9"/><rect x="372" y="106" width="2" height="6"/><rect x="382" y="108" width="2" height="13"/><rect x="412" y="156" width="2" height="10"/><rect x="417" y="158" width="2" height="1"/><rect x="422" y="143" width="2" height="18"/><rect x="432" y="134" width="2" height="11"/><rect x="437" y="132" width="2" height="2"/><rect x="457" y="173" width="2" height="1"/><rect x="472" y="193" width="2" height="3"/><rect x="497" y="222" width="2" height="1"/><rect x="507" y="217" width="2" height="7"/><rect x="532" y="265" width="2" height="10"/><rect x="537" y="265" width="2" height="1"/><rect x="557" y="314" width="2" height="10"/><rect x="577" y="359" width="2" height="12"/><rect x="582" y="341" width="2" height="21"/><rect x="597" y="345" width="2" height="12"/><rect x="602" y="341" width="2" height="8"/><rect x="632" y="360" width="2" height="5"/><rect x="637" y="328" width="2" height="23"/><rect x="642" y="325" width="2" height="5"/><rect x="647" y="317" width="2" height="1"/><rect x="652" y="309" width="2" height="6"/><rect x="682" y="341" width="2" height="7"/><rect x="697" y="336" width="2" height="4"/><rect x="711" y="343" width="2" height="3"/><rect x="717" y="342" width="2" height="1"/><rect x="732" y="368" width="2" height="19"/><rect x="737" y="365" width="2" height="1"/><rect x="742" y="364" width="2" height="2"/><rect x="752" y="334" width="2" height="22"/><rect x="767" y="326" width="2" height="14"/><rect x="797" y="371" width="2" height="12"/><rect x="802" y="356" width="2" height="6"/><rect x="807" y="334" width="2" height="19"/><rect x="812" y="334" width="2" height="1"/><rect x="836" y="379" width="2" height="18"/><rect x="842" y="377" width="2" height="4"/><rect x="852" y="370" width="2" height="9"/><rect x="867" y="388" width="2" height="2"/><rect x="882" y="393" width="2" height="8"/><rect x="887" y="386" width="2" height="7"/><rect x="902" y="398" width="2" height="6"/><rect x="932" y="416" width="2" height="9"/><rect x="937" y="408" width="2" height="1"/><rect x="947" y="409" width="2" height="2"/><rect x="957" y="432" width="2" height="1"/><rect x="982" y="463" width="2" height="14"/><rect x="987" y="450" width="2" height="6"/><rect x="992" y="421" width="2" height="35"/><rect x="997" y="483" width="2" height="8"/><rect x="1002" y="468" width="2" height="10"/><rect x="1017" y="451" width="2" height="7"/><rect x="1032" y="448" width="2" height="12"/><rect x="1072" y="474" width="2" height="1"/><rect x="1077" y="438" width="2" height="42"/><rect x="1092" y="505" width="2" height="28"/><rect x="1097" y="510" width="2" height="6"/><rect x="1112" y="495" width="2" height="4"/><rect x="1117" y="469" width="2" height="24"/><rect x="1122" y="463" width="2" height="4"/><rect x="1127" y="467" width="2" height="1"/><rect x="1142" y="448" width="2" height="15"/><rect x="1162" y="445" width="2" height="1"/><rect x="1192" y="451" width="2" height="11"/><rect x="1202" y="426" width="2" height="17"/><rect x="1217" y="440" width="2" height="9"/><rect x="1227" y="445" width="2" height="51"/><rect x="1237" y="468" width="2" height="4"/><rect x="1242" y="452" width="2" height="10"/><rect x="1257" y="446" width="2" height="4"/><rect x="1262" y="432" width="2" height="8"/><rect x="1267" y="418" width="2" height="7"/><rect x="1272" y="418" width="2" height="2"/><rect x="1277" y="418" width="2" height="6"/><rect x="1292" y="413" width="2" height="1"/><rect x="1302" y="405" width="2" height="5"/><rect x="1307" y="399" width="2" height="2"/><rect x="1312" y="390" width="2" height="6"/><rect x="1322" y="393" width="2" height="1"/><rect x="1337" y="418" width="2" height="1"/><rect x="1342" y="416" width="2" height="1"/><rect x="1346" y="416" width="2" height="1"/><rect x="1377" y="407" width="2" height="9"/><rect x="1382" y="382" width="2" height="17"/><rect x="1407" y="425" width="2" height="2"/><rect x="1432" y="421" width="2" height="6"/><rect x="1442" y="412" width="2" height="6"/><rect x="1447" y="404" width="2" height="5"/><rect x="1452" y="376" width="2" height="30"/><rect x="1467" y="379" width="2" height="8"/><rect x="1492" y="388" width="2" height="12"/><rect x="1497" y="386" width="2" height="4"/><rect x="1507" y="380" width="2" height="7"/><rect x="1527" y="404" width="2" height="2"/><rect x="1537" y="399" width="2" height="1"/><rect x="1542" y="376" width="2" height="15"/><rect x="1547" y="363" width="2" height="9"/><rect x="1552" y="348" width="2" height="10"/><rect x="1557" y="345" width="2" height="1"/><rect x="1562" y="341" width="2" height="3"/><rect x="1577" y="336" width="2" height="25"/><rect x="1591" y="308" width="2" height="9"/><rect x="1617" y="334" width="2" height="10"/><rect x="1627" y="338" width="2" height="5"/><rect x="1641" y="334" width="2" height="5"/><rect x="1647" y="323" width="2" height="8"/><rect x="1652" y="317" width="2" height="8"/><rect x="1667" y="320" width="2" height="12"/><rect x="1672" y="298" width="2" height="16"/><rect x="1677" y="283" width="2" height="10"/><rect x="1697" y="303" width="2" height="2"/><rect x="1702" y="270" width="2" height="40"/><rect x="1707" y="267" width="2" height="1"/><rect x="1712" y="258" width="2" height="4"/><rect x="1716" y="241" width="2" height="15"/><rect x="1722" y="236" width="2" height="2"/><rect x="1727" y="231" width="2" height="3"/><rect x="1732" y="226" width="2" height="1"/><rect x="1742" y="232" width="2" height="1"/><rect x="1752" y="237" width="2" height="6"/><rect x="1757" y="233" width="2" height="8"/><rect x="1762" y="233" width="2" height="2"/><rect x="1766" y="226" width="2" height="7"/><rect x="1782" y="215" width="2" height="7"/></g>
<rect x="0" y="74" width="1855" height="1" fill="#000"/>
<rect x="0" y="208" width="1855" height="1" fill="#000"/>
<rect x="0" y="292" width="1855" height="1" fill="#000"/>
<rect x="553" y="336" width="1302" height="1" fill="#000"/>
<rect x="973" y="421" width="304" height="1" fill="#000"/>
<rect x="0" y="589" width="1855" height="1" fill="#000"/>
<rect x="0" y="444" width="1855" height="1" fill="#00f"/>
<rect x="0" y="617" width="1855" height="1" fill="#00f"/>
<rect x="0" y="832" width="1855" height="1" fill="#00f"/>
<path d="M0 6.5h3M3 7.5h6M9 8.5h6M15 9.5h6M21 10.5h5M26 11.5h6M32 12.5h6M38 13.5h6M44 14.5h5M49 15.5h6M55 16.5h6M61 17.5h6M67 18.5h5M72 19.5h6M78 20.5h6M84 21.5h6M90 22.5h6M96 23.5h5M101 24.5h6M107 25.5h6M113 26.5h6M119 27.5h5M124 28.5h6M130 29.5h6M136 30.5h6M142 31.5h5M147 32.5h6M153 33.5h6M159 34.5h6M165 35.5h5M170 36.5h6M176 37.5h6M182 38.5h6M188 39.5h5M193 40.5h6M199 41.5h6M205 42.5h6M211 43.5h5M216 44.5h6M222 45.5h6M228 46.5h6M234 47.5h5M239 48.5h6M245 49.5h6M251 50.5h6M257 51.5h5M262 52.5h6M268 53.5h6M274 54.5h6M280 55.5h6M286 56.5h5M291 57.5h6M297 58.5h6M303 59.5h6M309 60.5h5M314 61.5h6M320 62.5h6M326 63.5h6M332 64.5h5M337 65.5h6M343 66.5h6M349 67.5h6M355 68.5h5M360 69.5h6M366 70.5h6M372 71.5h6M378 72.5h5M383 73.5h6M389 74.5h6M395 75.5h6M401 76.5h5M406 77.5h6M412 78.5h6M418 79.5h6M424 80.5h5M429 81.5h6M435 82.5h6M441 83.5h6M447 84.5h5M452 85.5h6M458 86.5h6M464 87.5h6M470 88.5h6M476 89.5h5M481 90.5h6M487 91.5h6M493 92.5h6M499 93.5h5M504 94.5h6M510 95.5h6M516 96.5h6M522 97.5h5M527 98.5h6M533 99.5h6M539 100.5h6M545 101.5h5M550 102.5h6M556 103.5h6M562 104.5h6M568 105.5h5M573 106.5h6M579 107.5h6M585 108.5h6M591 109.5h5M596 110.5h6M602 111.5h6M608 112.5h6M614 113.5h5M619 114.5h6M625 115.5h6M631 116.5h6M637 117.5h5M642 118.5h6M648 119.5h6M654 120.5h6M660 121.5h6M666 122.5h5M671 123.5h6M677 124.5h6M683 125.5h6M689 126.5h5M694 127.5h6M700 128.5h6M706 129.5h6M712 130.5h5M717 131.5h6M723 132.5h6M729 133.5h6M735 134.5h5M740 135.5h6M746 136.5h6M752 137.5h6M758 138.5h5M763 139.5h6M769 140.5h6M775 141.5h6M781 142.5h5M433 143.5h2M786 143.5h6M430 144.5h3M792 144.5h6M428 145.5h2M798 145.5h6M425 146.5h3M804 146.5h5M422 147.5h3M809 147.5h6M420 148.5h2M815 148.5h6M417 149.5h3M821 149.5h6M414 150.5h3M827 150.5h5M412 151.5h2M832 151.5h6M409 152.5h3M838 152.5h6M406 153.5h3M844 153.5h6M404 154.5h2M850 154.5h6M401 155.5h3M856 155.5h5M398 156.5h3M861 156.5h6M396 157.5h2M867 157.5h6M393 158.5h3M873 158.5h6M390 159.5h3M879 159.5h5M388 160.5h2M884 160.5h6M385 161.5h3M890 161.5h6M382 162.5h3M896 162.5h6M380 163.5h2M902 163.5h5M377 164.5h3M907 164.5h6M374 165.5h3M913 165.5h6M372 166.5h2M919 166.5h6M369 167.5h3M925 167.5h5M366 168.5h3M930 168.5h6M143 169.5h4M364 169.5h2M936 169.5h6M135 170.5h8M361 170.5h3M942 170.5h6M127 171.5h8M358 171.5h3M948 171.5h5M120 172.5h7M356 172.5h2M953 172.5h6M112 173.5h8M353 173.5h3M959 173.5h6M104 174.5h8M350 174.5h3M965 174.5h6M97 175.5h7M348 175.5h2M971 175.5h5M89 176.5h8M345 176.5h3M976 176.5h6M81 177.5h8M342 177.5h3M982 177.5h6M74 178.5h7M339 178.5h3M988 178.5h6M66 179.5h8M337 179.5h2M994 179.5h5M58 180.5h8M334 180.5h3M999 180.5h6M50 181.5h8M331 181.5h3M1005 181.5h6M43 182.5h7M329 182.5h2M1011 182.5h6M35 183.5h8M326 183.5h3M1017 183.5h6M27 184.5h8M323 184.5h3M1023 184.5h5M20 185.5h7M321 185.5h2M1028 185.5h6M12 186.5h8M318 186.5h3M1034 186.5h6M4 187.5h8M315 187.5h3M1040 187.5h6M0 188.5h4M313 188.5h2M1046 188.5h5M310 189.5h3M1051 189.5h6M307 190.5h3M1057 190.5h6M305 191.5h2M1063 191.5h6M302 192.5h3M1069 192.5h5M299 193.5h3M1074 193.5h6M297 194.5h2M1080 194.5h6M294 195.5h3M1086 195.5h6M291 196.5h3M1092 196.5h5M289 197.5h2M1097 197.5h6M286 198.5h3M1103 198.5h6M283 199.5h3M1109 199.5h6M281 200.5h2M1115 200.5h5M278 201.5h3M1120 201.5h6M275 202.5h3M1126 202.5h6M273 203.5h2M1132 203.5h6M270 204.5h3M1138 204.5h5M267 205.5h3M1143 205.5h6M265 206.5h2M1149 206.5h6M262 207.5h3M1155 207.5h6M259 208.5h3M1161 208.5h5M257 209.5h2M1166 209.5h6M254 210.5h3M1172 210.5h6M252 211.5h2M1178 211.5h6M1184 212.5h5M1189 213.5h6M1195 214.5h6M1201 215.5h6M1207 216.5h6M1213 217.5h5M1218 218.5h6M1224 219.5h6M1230 220.5h6M1236 221.5h5M1241 222.5h6M1247 223.5h6M1253 224.5h6M1259 225.5h5M1264 226.5h6M1270 227.5h6M1276 228.5h6M1282 229.5h5M1287 230.5h6M1293 231.5h6M1299 232.5h6M1305 233.5h5M1310 234.5h6M1316 235.5h6M1322 236.5h6M1328 237.5h5M1333 238.5h6M1339 239.5h6M1345 240.5h6M1351 241.5h5M1356 242.5h6M1362 243.5h6M1368 244.5h6M1374 245.5h5M1379 246.5h6M1385 247.5h6M1391 248.5h6M1397 249.5h6M1403 250.5h5M1408 251.5h6M1414 252.5h6M1420 253.5h6M1426 254.5h5M1431 255.5h6M1437 256.5h6M1443 257.5h6M1449 258.5h5M1454 259.5h6M1460 260.5h6M1466 261.5h6M1472 262.5h5M1477 263.5h6M1483 264.5h6M1489 265.5h6M1495 266.5h5M1500 267.5h6M1506 268.5h6M1512 269.5h6M1518 270.5h5M1523 271.5h6M1529 272.5h6M1535 273.5h6M1541 274.5h5M1546 275.5h6M1552 276.5h6M1558 277.5h6M1564 278.5h5M1569 279.5h6M1575 280.5h6M1581 281.5h6M1587 282.5h6M1593 283.5h5M1598 284.5h6M1604 285.5h6M1610 286.5h6M1616 287.5h5M1621 288.5h6M1627 289.5h6M1633 290.5h6M1639 291.5h5M1644 292.5h6M1650 293.5h6M1656 294.5h6M1662 295.5h5M1667 296.5h6M1673 297.5h6M1679 298.5h6M1685 299.5h5M1690 300.5h6M1696 301.5h6M1702 302.5h6M1708 303.5h5M1713 304.5h6M1719 305.5h6M1725 306.5h6M1731 307.5h5M1736 308.5h6M1742 309.5h6M1748 310.5h6M1754 311.5h5M1759 312.5h6M1765 313.5h6M1771 314.5h6M1777 315.5h6M1783 316.5h5M1788 317.5h6M1694 318.5h2M1794 318.5h6M1692 319.5h2M1800 319.5h6M1690 320.5h2M1806 320.5h5M741 321.5h2M1811 321.5h6M739 322.5h2M1687 322.5h2M1817 322.5h6M737 323.5h2M1685 323.5h2M1823 323.5h6M735 324.5h2M1683 324.5h2M1829 324.5h5M733 325.5h2M1681 325.5h2M1834 325.5h6M730 326.5h3M1840 326.5h6M728 327.5h2M1678 327.5h2M1846 327.5h6M726 328.5h2M1676 328.5h2M1852 328.5h3M724 329.5h2M1674 329.5h2M722 330.5h2M720 331.5h2M1671 331.5h2M717 332.5h3M1669 332.5h2M715 333.5h2M1667 333.5h2M713 334.5h2M1665 334.5h2M711 335.5h2M709 336.5h2M1662 336.5h2M706 337.5h3M1660 337.5h2M704 338.5h2M1658 338.5h2M702 339.5h2M700 340.5h2M1655 340.5h2M698 341.5h2M1653 341.5h2M695 342.5h3M1651 342.5h2M693 343.5h2M1649 343.5h2M691 344.5h2M689 345.5h2M1646 345.5h2M687 346.5h2M1644 346.5h2M685 347.5h2M1642 347.5h2M682 348.5h3M680 349.5h2M1639 349.5h2M678 350.5h2M1637 350.5h2M676 351.5h2M1635 351.5h2M674 352.5h2M1633 352.5h2M671 353.5h3M669 354.5h2M1630 354.5h2M667 355.5h2M1628 355.5h2M665 356.5h2M1626 356.5h2M663 357.5h2M660 358.5h3M1623 358.5h2M658 359.5h2M1621 359.5h2M656 360.5h2M1619 360.5h2M654 361.5h2M1617 361.5h2M652 362.5h2M650 363.5h2M1614 363.5h2M647 364.5h3M1612 364.5h2M645 365.5h2M1610 365.5h2M643 366.5h2M641 367.5h2M1607 367.5h2M639 368.5h2M1605 368.5h2M636 369.5h3M1603 369.5h2M634 370.5h2M632 371.5h2M1600 371.5h2M630 372.5h2M1598 372.5h2M628 373.5h2M1596 373.5h2M625 374.5h3M1594 374.5h2M623 375.5h2M621 376.5h2M1591 376.5h2M619 377.5h2M1589 377.5h2M617 378.5h2M1587 378.5h2M615 379.5h2M612 380.5h3M1434 380.5h2M1584 380.5h2M610 381.5h2M1432 381.5h2M1582 381.5h2M608 382.5h2M1580 382.5h2M606 383.5h2M1429 383.5h2M1578 383.5h2M604 384.5h2M1427 384.5h2M601 385.5h3M1575 385.5h2M599 386.5h2M1424 386.5h2M1573 386.5h2M597 387.5h2M1422 387.5h2M1571 387.5h2M595 388.5h2M1420 388.5h2M593 389.5h2M1568 389.5h2M590 390.5h3M1417 390.5h2M1566 390.5h2M588 391.5h2M1415 391.5h2M1564 391.5h2M586 392.5h2M1562 392.5h2M584 393.5h2M1412 393.5h2M582 394.5h2M1410 394.5h2M1559 394.5h2M580 395.5h2M1557 395.5h2M577 396.5h3M1407 396.5h2M1555 396.5h2M575 397.5h2M1405 397.5h2M573 398.5h2M1552 398.5h2M571 399.5h2M1402 399.5h2M1550 399.5h2M569 400.5h2M1400 400.5h2M1548 400.5h2M567 401.5h2M1398 401.5h2M1546 401.5h2M1395 403.5h2M1543 403.5h2M1393 404.5h2M1541 404.5h2M1539 405.5h2M1390 406.5h2M1388 407.5h2M1536 407.5h2M1534 408.5h2M1385 409.5h2M1532 409.5h2M1383 410.5h2M1530 410.5h2M1380 412.5h2M1527 412.5h2M1378 413.5h2M1525 413.5h2M1376 414.5h2M1523 414.5h2M1373 416.5h2M1371 417.5h2M1368 419.5h2M1366 420.5h2M1363 422.5h2M1361 423.5h2M1540 423.5h2M1536 424.5h4M1358 425.5h2M1532 425.5h4M1356 426.5h2M1528 426.5h4M1354 427.5h2M1524 427.5h4M1520 428.5h4M1351 429.5h2M1516 429.5h4M1349 430.5h2M1512 430.5h4M1508 431.5h4M1346 432.5h2M1504 432.5h4M1344 433.5h2M1501 433.5h3M1497 434.5h4M1341 435.5h2M1493 435.5h4M1339 436.5h2M1489 436.5h4M1485 437.5h4M1336 438.5h2M1481 438.5h4M1334 439.5h2M1477 439.5h4M1332 440.5h2M1473 440.5h4M1469 441.5h4M1329 442.5h2M1465 442.5h4M1327 443.5h2M1462 443.5h3M1458 444.5h4M1324 445.5h2M1454 445.5h4M1322 446.5h2M1450 446.5h4M1446 447.5h4M1319 448.5h2M1442 448.5h4M1317 449.5h2M1438 449.5h4M1434 450.5h4M1314 451.5h2M1430 451.5h4M1312 452.5h2M1427 452.5h3M1310 453.5h2M1423 453.5h4M1419 454.5h4M1307 455.5h2M1415 455.5h4M1305 456.5h2M1411 456.5h4M1407 457.5h4M1302 458.5h2M1403 458.5h4M1300 459.5h2M1399 459.5h4M1395 460.5h4M1297 461.5h2M1391 461.5h4M1295 462.5h2M1388 462.5h3M1384 463.5h4M1292 464.5h2M1380 464.5h4M1290 465.5h2M1376 465.5h4M1288 466.5h2M1372 466.5h4M1368 467.5h4M1285 468.5h2M1364 468.5h4M1283 469.5h2M1360 469.5h4M1356 470.5h4M1280 471.5h2M1352 471.5h4M1278 472.5h2M1349 472.5h3M1345 473.5h4M1275 474.5h2M1341 474.5h4M1273 475.5h2M1337 475.5h4M1333 476.5h4M1270 477.5h2M1329 477.5h4M1268 478.5h2M1325 478.5h4M1266 479.5h2M1321 479.5h4M1317 480.5h4M1263 481.5h2M1313 481.5h4M1261 482.5h2M1310 482.5h3M1306 483.5h4M1258 484.5h2M1302 484.5h4M1256 485.5h2M1298 485.5h4M1294 486.5h4M1253 487.5h2M1290 487.5h4M1251 488.5h2M1286 488.5h4M1282 489.5h4M1248 490.5h2M1278 490.5h4M1246 491.5h2M1274 491.5h4M1244 492.5h2M1271 492.5h3M1267 493.5h4M1241 494.5h2M1263 494.5h4M1239 495.5h2M1259 495.5h4M1255 496.5h4M1236 497.5h2M1251 497.5h4M1234 498.5h2M1247 498.5h4M1243 499.5h4M1231 500.5h2M1239 500.5h4M1229 501.5h2M1235 501.5h4M1232 502.5h3M1226 503.5h6M1224 504.5h4M1220 505.5h4M1216 506.5h4M1212 507.5h4M1219 507.5h2M1208 508.5h4M1217 508.5h2M1204 509.5h4M1200 510.5h4M1197 511.5h3M1193 512.5h4M1189 513.5h4M1185 514.5h4M1181 515.5h4M1177 516.5h4M1173 517.5h4M1169 518.5h4M1165 519.5h4M1161 520.5h4M1158 521.5h3M1154 522.5h4M1150 523.5h4M1146 524.5h4M1142 525.5h4M1138 526.5h4M1134 527.5h4M1130 528.5h4M1126 529.5h4M1122 530.5h4M1119 531.5h3M1115 532.5h4M1111 533.5h4M1107 534.5h4M1103 535.5h4M1099 536.5h4M1095 537.5h4M1091 538.5h4M1087 539.5h4M1083 540.5h4M1081 541.5h2M1696.5 317v1M1689.5 321v1M1680.5 326v1M1673.5 330v1M1664.5 335v1M1657.5 339v1M1648.5 344v1M1641.5 348v1M1632.5 353v1M1625.5 357v1M1616.5 362v1M1609.5 366v1M1602.5 370v1M1593.5 375v1M1436.5 379v1M1586.5 379v1M1431.5 382v1M1577.5 384v1M1426.5 385v1M1570.5 388v1M1419.5 389v1M1414.5 392v1M1561.5 393v1M1409.5 395v1M1554.5 397v1M1404.5 398v1M1397.5 402v1M1545.5 402v1M1392.5 405v1M1538.5 406v1M1387.5 408v1M1382.5 411v1M1529.5 411v1M1375.5 415v1M1522.5 415v1M1370.5 418v1M1365.5 421v1M1360.5 424v1M1353.5 428v1M1348.5 431v1M1343.5 434v1M1338.5 437v1M1331.5 441v1M1326.5 444v1M1321.5 447v1M1316.5 450v1M1309.5 454v1M1304.5 457v1M1299.5 460v1M1294.5 463v1M1287.5 467v1M1282.5 470v1M1277.5 473v1M1272.5 476v1M1265.5 480v1M1260.5 483v1M1255.5 486v1M1250.5 489v1M1243.5 493v1M1238.5 496v1M1233.5 499v1M1228.5 502v1M1221.5 506v1M1216.5 509v1" stroke="#000" stroke-width="1" fill="none"/>
<path d="M373 90.5h2M375 91.5h2M377 92.5h2M379 93.5h2M381 94.5h2M383 95.5h2M385 96.5h2M387 97.5h2M389 98.5h2M392 100.5h2M394 101.5h2M396 102.5h2M398 103.5h2M400 104.5h2M402 105.5h2M404 106.5h2M406 107.5h2M408 108.5h2M411 110.5h2M413 111.5h2M415 112.5h2M417 113.5h2M419 114.5h2M421 115.5h2M423 116.5h2M425 117.5h2M428 119.5h2M430 120.5h2M432 121.5h2M434 122.5h2M436 123.5h2M438 124.5h2M440 125.5h2M442 126.5h2M444 127.5h2M447 129.5h2M449 130.5h2M451 131.5h2M453 132.5h2M455 133.5h2M457 134.5h2M459 135.5h2M461 136.5h2M463 137.5h2M466 139.5h2M468 140.5h2M470 141.5h2M472 142.5h2M474 143.5h2M476 144.5h2M478 145.5h2M480 146.5h2M482 147.5h2M485 149.5h2M487 150.5h2M489 151.5h2M491 152.5h2M493 153.5h2M495 154.5h2M497 155.5h2M499 156.5h2M502 158.5h2M504 159.5h2M506 160.5h2M508 161.5h2M510 162.5h2M512 163.5h2M514 164.5h2M516 165.5h2M518 166.5h2M521 168.5h2M523 169.5h2M525 170.5h2M527 171.5h2M529 172.5h2M531 173.5h2M533 174.5h2M535 175.5h2M537 176.5h2M540 178.5h2M542 179.5h2M544 180.5h2M546 181.5h2M548 182.5h2M550 183.5h2M552 184.5h2M554 185.5h2M556 186.5h2M559 188.5h2M561 189.5h2M563 190.5h2M565 191.5h2M567 192.5h2M569 193.5h2M571 194.5h2M573 195.5h2M576 197.5h2M578 198.5h2M580 199.5h2M582 200.5h2M584 201.5h2M586 202.5h2M588 203.5h2M590 204.5h2M592 205.5h2M595 207.5h2M597 208.5h2M599 209.5h2M601 210.5h2M603 211.5h2M605 212.5h2M607 213.5h2M609 214.5h2M611 215.5h2M614 217.5h2M616 218.5h2M618 219.5h2M620 220.5h2M622 221.5h2M624 222.5h2M626 223.5h2M628 224.5h2M630 225.5h2M633 227.5h2M635 228.5h2M637 229.5h2M639 230.5h2M641 231.5h2M643 232.5h2M645 233.5h2M647 234.5h2M650 236.5h2M652 237.5h2M654 238.5h2M656 239.5h2M658 240.5h2M660 241.5h2M662 242.5h2M664 243.5h2M666 244.5h2M669 246.5h2M671 247.5h2M673 248.5h2M675 249.5h2M677 250.5h2M679 251.5h2M681 252.5h2M683 253.5h2M685 254.5h2M688 256.5h2M690 257.5h2M692 258.5h2M694 259.5h2M696 260.5h2M698 261.5h2M700 262.5h2M702 263.5h2M704 264.5h2M707 266.5h2M709 267.5h2M711 268.5h2M713 269.5h2M715 270.5h2M717 271.5h2M719 272.5h2M721 273.5h2M723 274.5h2M726 276.5h2M728 277.5h2M730 278.5h2M732 279.5h2M734 280.5h2M736 281.5h2M738 282.5h2M740 283.5h2M743 285.5h2M745 286.5h2M747 287.5h2M749 288.5h2M751 289.5h2M753 290.5h2M755 291.5h2M757 292.5h2M759 293.5h2M762 295.5h2M764 296.5h2M766 297.5h2M768 298.5h2M770 299.5h2M772 300.5h2M774 301.5h2M776 302.5h2M778 303.5h2M781 305.5h2M783 306.5h2M785 307.5h2M787 308.5h2M789 309.5h2M791 310.5h2M793 311.5h2M795 312.5h2M797 313.5h2M800 315.5h2M802 316.5h2M804 317.5h2M806 318.5h2M808 319.5h2M810 320.5h2M812 321.5h2M814 322.5h2M817 324.5h2M819 325.5h2M821 326.5h2M823 327.5h2M825 328.5h2M827 329.5h2M829 330.5h2M831 331.5h2M833 332.5h2M836 334.5h2M838 335.5h2M840 336.5h2M842 337.5h2M844 338.5h2M846 339.5h2M848 340.5h2M850 341.5h2M852 342.5h2M855 344.5h2M857 345.5h2M859 346.5h2M861 347.5h2M863 348.5h2M865 349.5h2M867 350.5h2M869 351.5h2M871 352.5h2M874 354.5h2M876 355.5h2M878 356.5h2M880 357.5h2M882 358.5h2M884 359.5h2M886 360.5h2M888 361.5h2M891 363.5h2M893 364.5h2M895 365.5h2M897 366.5h2M899 367.5h2M901 368.5h2M903 369.5h2M905 370.5h2M907 371.5h2M910 373.5h2M912 374.5h2M914 375.5h2M916 376.5h2M918 377.5h2M920 378.5h2M922 379.5h2M924 380.5h2M926 381.5h2M929 383.5h2M931 384.5h2M933 385.5h2M935 386.5h2M937 387.5h2M939 388.5h2M941 389.5h2M943 390.5h2M945 391.5h2M948 393.5h2M950 394.5h2M952 395.5h2M954 396.5h2M956 397.5h2M958 398.5h2M960 399.5h2M962 400.5h2M965 402.5h2M967 403.5h2M969 404.5h2M971 405.5h2M973 406.5h2M975 407.5h2M977 408.5h2M979 409.5h2M981 410.5h2M984 412.5h2M986 413.5h2M988 414.5h2M990 415.5h2M992 416.5h2M994 417.5h2M996 418.5h2M998 419.5h2M1000 420.5h2M1003 422.5h2M1005 423.5h2M1007 424.5h2M1009 425.5h2M1011 426.5h2M1013 427.5h2M1015 428.5h2M1017 429.5h2M1019 430.5h2M1022 432.5h2M1024 433.5h2M1026 434.5h2M1028 435.5h2M1030 436.5h2M1032 437.5h2M1034 438.5h2M1036 439.5h2M1039 441.5h2M1041 442.5h2M1043 443.5h2M1045 444.5h2M1047 445.5h2M1049 446.5h2M1051 447.5h2M1053 448.5h2M1055 449.5h2M1058 451.5h2M1060 452.5h2M1062 453.5h2M1064 454.5h2M1066 455.5h2M1068 456.5h2M1070 457.5h2M1072 458.5h2M1074 459.5h2M372.5 89v1M391.5 99v1M410.5 109v1M427.5 118v1M446.5 128v1M465.5 138v1M484.5 148v1M501.5 157v1M520.5 167v1M539.5 177v1M558.5 187v1M575.5 196v1M594.5 206v1M613.5 216v1M632.5 226v1M649.5 235v1M668.5 245v1M687.5 255v1M706.5 265v1M725.5 275v1M742.5 284v1M761.5 294v1M780.5 304v1M799.5 314v1M816.5 323v1M835.5 333v1M854.5 343v1M873.5 353v1M890.5 362v1M909.5 372v1M928.5 382v1M947.5 392v1M964.5 401v1M983.5 411v1M1002.5 421v1M1021.5 431v1M1038.5 440v1M1057.5 450v1M1076.5 460v1" stroke="#f00" stroke-width="1" fill="none"/>
<g fill="#00f">
<rect x="2" y="830" width="1" height="50"/>
<rect x="7" y="715" width="1" height="165"/>
<rect x="12" y="791" width="1" height="89"/>
<rect x="17" y="812" width="1" height="68"/>
<rect x="22" y="836" width="1" height="44"/>
<rect x="27" y="809" width="1" height="71"/>
<rect x="32" y="772" width="1" height="108"/>
<rect x="37" y="838" width="1" height="42"/>
<rect x="41" y="847" width="1" height="33"/>
<rect x="47" y="847" width="1" height="33"/>
<rect x="52" y="840" width="1" height="40"/>
<rect x="57" y="794" width="1" height="86"/>
<rect x="62" y="795" width="1" height="85"/>
<rect x="67" y="738" width="1" height="142"/>
<rect x="72" y="762" width="1" height="118"/>
<rect x="77" y="840" width="1" height="40"/>
<rect x="82" y="811" width="1" height="69"/>
<rect x="87" y="791" width="1" height="89"/>
<rect x="92" y="838" width="1" height="42"/>
<rect x="97" y="798" width="1" height="82"/>
<rect x="102" y="822" width="1" height="58"/>
<rect x="107" y="832" width="1" height="48"/>
<rect x="112" y="825" width="1" height="55"/>
<rect x="117" y="833" width="1" height="47"/>
<rect x="122" y="796" width="1" height="84"/>
<rect x="127" y="849" width="1" height="31"/>
<rect x="132" y="857" width="1" height="23"/>
<rect x="137" y="850" width="1" height="30"/>
<rect x="142" y="816" width="1" height="64"/>
<rect x="147" y="836" width="1" height="44"/>
<rect x="152" y="837" width="1" height="43"/>
<rect x="157" y="840" width="1" height="40"/>
<rect x="162" y="842" width="1" height="38"/>
<rect x="166" y="844" width="1" height="36"/>
<rect x="172" y="844" width="1" height="36"/>
<rect x="177" y="850" width="1" height="30"/>
<rect x="182" y="835" width="1" height="45"/>
<rect x="187" y="848" width="1" height="32"/>
<rect x="192" y="852" width="1" height="28"/>
<rect x="197" y="855" width="1" height="25"/>
<rect x="202" y="847" width="1" height="33"/>
<rect x="207" y="832" width="1" height="48"/>
<rect x="212" y="859" width="1" height="21"/>
<rect x="217" y="857" width="1" height="23"/>
<rect x="222" y="859" width="1" height="21"/>
<rect x="227" y="845" width="1" height="35"/>
<rect x="232" y="847" width="1" height="33"/>
<rect x="237" y="818" width="1" height="62"/>
<rect x="242" y="814" width="1" height="66"/>
<rect x="247" y="833" width="1" height="47"/>
<rect x="252" y="843" width="1" height="37"/>
<rect x="257" y="835" width="1" height="45"/>
<rect x="262" y="850" width="1" height="30"/>
<rect x="267" y="853" width="1" height="27"/>
<rect x="272" y="848" width="1" height="32"/>
<rect x="277" y="849" width="1" height="31"/>
<rect x="282" y="832" width="1" height="48"/>
<rect x="287" y="851" width="1" height="29"/>
<rect x="292" y="862" width="1" height="18"/>
<rect x="297" y="862" width="1" height="18"/>
<rect x="302" y="863" width="1" height="17"/>
<rect x="307" y="863" width="1" height="17"/>
<rect x="312" y="867" width="1" height="13"/>
<rect x="317" y="832" width="1" height="48"/>
<rect x="322" y="866" width="1" height="14"/>
<rect x="327" y="861" width="1" height="19"/>
<rect x="332" y="785" width="1" height="95"/>
<rect x="336" y="844" width="1" height="36"/>
<rect x="342" y="852" width="1" height="28"/>
<rect x="347" y="855" width="1" height="25"/>
<rect x="352" y="849" width="1" height="31"/>
<rect x="357" y="854" width="1" height="26"/>
<rect x="362" y="858" width="1" height="22"/>
<rect x="367" y="838" width="1" height="42"/>
<rect x="372" y="814" width="1" height="66"/>
<rect x="377" y="855" width="1" height="25"/>
<rect x="382" y="847" width="1" height="33"/>
<rect x="387" y="839" width="1" height="41"/>
<rect x="392" y="851" width="1" height="29"/>
<rect x="397" y="842" width="1" height="38"/>
<rect x="402" y="823" width="1" height="57"/>
<rect x="407" y="823" width="1" height="57"/>
<rect x="412" y="859" width="1" height="21"/>
<rect x="417" y="855" width="1" height="25"/>
<rect x="422" y="827" width="1" height="53"/>
<rect x="427" y="847" width="1" height="33"/>
<rect x="432" y="859" width="1" height="21"/>
<rect x="437" y="848" width="1" height="32"/>
<rect x="442" y="858" width="1" height="22"/>
<rect x="447" y="808" width="1" height="72"/>
<rect x="452" y="823" width="1" height="57"/>
<rect x="457" y="837" width="1" height="43"/>
<rect x="461" y="802" width="1" height="78"/>
<rect x="467" y="831" width="1" height="49"/>
<rect x="472" y="845" width="1" height="35"/>
<rect x="477" y="804" width="1" height="76"/>
<rect x="482" y="823" width="1" height="57"/>
<rect x="487" y="821" width="1" height="59"/>
<rect x="492" y="825" width="1" height="55"/>
<rect x="497" y="830" width="1" height="50"/>
<rect x="502" y="836" width="1" height="44"/>
<rect x="507" y="812" width="1" height="68"/>
<rect x="512" y="815" width="1" height="65"/>
<rect x="517" y="753" width="1" height="127"/>
<rect x="522" y="794" width="1" height="86"/>
<rect x="527" y="776" width="1" height="104"/>
<rect x="532" y="813" width="1" height="67"/>
<rect x="537" y="812" width="1" height="68"/>
<rect x="542" y="737" width="1" height="143"/>
<rect x="547" y="822" width="1" height="58"/>
<rect x="552" y="783" width="1" height="97"/>
<rect x="557" y="838" width="1" height="42"/>
<rect x="562" y="804" width="1" height="76"/>
<rect x="567" y="831" width="1" height="49"/>
<rect x="572" y="705" width="1" height="175"/>
<rect x="577" y="792" width="1" height="88"/>
<rect x="582" y="780" width="1" height="100"/>
<rect x="586" y="832" width="1" height="48"/>
<rect x="592" y="840" width="1" height="40"/>
<rect x="597" y="805" width="1" height="75"/>
<rect x="602" y="774" width="1" height="106"/>
<rect x="607" y="800" width="1" height="80"/>
<rect x="612" y="801" width="1" height="79"/>
<rect x="617" y="815" width="1" height="65"/>
<rect x="622" y="813" width="1" height="67"/>
<rect x="627" y="842" width="1" height="38"/>
<rect x="632" y="821" width="1" height="59"/>
<rect x="637" y="791" width="1" height="89"/>
<rect x="642" y="818" width="1" height="62"/>
<rect x="647" y="822" width="1" height="58"/>
<rect x="652" y="831" width="1" height="49"/>
<rect x="657" y="830" width="1" height="50"/>
<rect x="662" y="816" width="1" height="64"/>
<rect x="667" y="829" width="1" height="51"/>
<rect x="672" y="813" width="1" height="67"/>
<rect x="677" y="783" width="1" height="97"/>
<rect x="682" y="829" width="1" height="51"/>
<rect x="687" y="842" width="1" height="38"/>
<rect x="692" y="823" width="1" height="57"/>
<rect x="697" y="795" width="1" height="85"/>
<rect x="702" y="805" width="1" height="75"/>
<rect x="707" y="812" width="1" height="68"/>
<rect x="711" y="794" width="1" height="86"/>
<rect x="717" y="810" width="1" height="70"/>
<rect x="722" y="810" width="1" height="70"/>
<rect x="727" y="716" width="1" height="164"/>
<rect x="732" y="616" width="1" height="264"/>
<rect x="737" y="830" width="1" height="50"/>
<rect x="742" y="849" width="1" height="31"/>
<rect x="747" y="851" width="1" height="29"/>
<rect x="752" y="834" width="1" height="46"/>
<rect x="757" y="825" width="1" height="55"/>
<rect x="762" y="832" width="1" height="48"/>
<rect x="767" y="809" width="1" height="71"/>
<rect x="772" y="811" width="1" height="69"/>
<rect x="777" y="809" width="1" height="71"/>
<rect x="782" y="787" width="1" height="93"/>
<rect x="787" y="834" width="1" height="46"/>
<rect x="792" y="844" width="1" height="36"/>
<rect x="797" y="834" width="1" height="46"/>
<rect x="802" y="815" width="1" height="65"/>
<rect x="807" y="775" width="1" height="105"/>
<rect x="812" y="823" width="1" height="57"/>
<rect x="817" y="837" width="1" height="43"/>
<rect x="822" y="734" width="1" height="146"/>
<rect x="827" y="832" width="1" height="48"/>
<rect x="832" y="837" width="1" height="43"/>
<rect x="836" y="826" width="1" height="54"/>
<rect x="842" y="839" width="1" height="41"/>
<rect x="847" y="849" width="1" height="31"/>
<rect x="852" y="846" width="1" height="34"/>
<rect x="857" y="838" width="1" height="42"/>
<rect x="862" y="844" width="1" height="36"/>
<rect x="867" y="740" width="1" height="140"/>
<rect x="872" y="846" width="1" height="34"/>
<rect x="877" y="835" width="1" height="45"/>
<rect x="882" y="808" width="1" height="72"/>
<rect x="887" y="857" width="1" height="23"/>
<rect x="892" y="829" width="1" height="51"/>
<rect x="897" y="813" width="1" height="67"/>
<rect x="902" y="810" width="1" height="70"/>
<rect x="907" y="812" width="1" height="68"/>
<rect x="912" y="815" width="1" height="65"/>
<rect x="917" y="802" width="1" height="78"/>
<rect x="922" y="797" width="1" height="83"/>
<rect x="927" y="824" width="1" height="56"/>
<rect x="932" y="849" width="1" height="31"/>
<rect x="937" y="827" width="1" height="53"/>
<rect x="942" y="840" width="1" height="40"/>
<rect x="947" y="809" width="1" height="71"/>
<rect x="952" y="792" width="1" height="88"/>
<rect x="957" y="811" width="1" height="69"/>
<rect x="961" y="820" width="1" height="60"/>
<rect x="967" y="832" width="1" height="48"/>
<rect x="972" y="814" width="1" height="66"/>
<rect x="977" y="787" width="1" height="93"/>
<rect x="982" y="825" width="1" height="55"/>
<rect x="987" y="819" width="1" height="61"/>
<rect x="992" y="779" width="1" height="101"/>
<rect x="997" y="700" width="1" height="180"/>
<rect x="1002" y="797" width="1" height="83"/>
<rect x="1007" y="832" width="1" height="48"/>
<rect x="1011" y="827" width="1" height="53"/>
<rect x="1017" y="838" width="1" height="42"/>
<rect x="1022" y="842" width="1" height="38"/>
<rect x="1027" y="835" width="1" height="45"/>
<rect x="1032" y="740" width="1" height="140"/>
<rect x="1037" y="843" width="1" height="37"/>
<rect x="1042" y="842" width="1" height="38"/>
<rect x="1047" y="829" width="1" height="51"/>
<rect x="1052" y="844" width="1" height="36"/>
<rect x="1057" y="845" width="1" height="35"/>
<rect x="1062" y="848" width="1" height="32"/>
<rect x="1067" y="853" width="1" height="27"/>
<rect x="1072" y="842" width="1" height="38"/>
<rect x="1077" y="809" width="1" height="71"/>
<rect x="1082" y="774" width="1" height="106"/>
<rect x="1086" y="752" width="1" height="128"/>
<rect x="1092" y="796" width="1" height="84"/>
<rect x="1097" y="792" width="1" height="88"/>
<rect x="1102" y="827" width="1" height="53"/>
<rect x="1107" y="848" width="1" height="32"/>
<rect x="1112" y="856" width="1" height="24"/>
<rect x="1117" y="846" width="1" height="34"/>
<rect x="1122" y="849" width="1" height="31"/>
<rect x="1127" y="862" width="1" height="18"/>
<rect x="1131" y="855" width="1" height="25"/>
<rect x="1137" y="846" width="1" height="34"/>
<rect x="1142" y="844" width="1" height="36"/>
<rect x="1147" y="845" width="1" height="35"/>
<rect x="1152" y="851" width="1" height="29"/>
<rect x="1157" y="854" width="1" height="26"/>
<rect x="1162" y="858" width="1" height="22"/>
<rect x="1167" y="855" width="1" height="25"/>
<rect x="1171" y="863" width="1" height="17"/>
<rect x="1177" y="858" width="1" height="22"/>
<rect x="1182" y="805" width="1" height="75"/>
<rect x="1187" y="842" width="1" height="38"/>
<rect x="1192" y="849" width="1" height="31"/>
<rect x="1197" y="842" width="1" height="38"/>
<rect x="1202" y="823" width="1" height="57"/>
<rect x="1207" y="827" width="1" height="53"/>
<rect x="1212" y="741" width="1" height="139"/>
<rect x="1217" y="777" width="1" height="103"/>
<rect x="1221" y="740" width="1" height="140"/>
<rect x="1227" y="699" width="1" height="181"/>
<rect x="1232" y="806" width="1" height="74"/>
<rect x="1237" y="832" width="1" height="48"/>
<rect x="1242" y="790" width="1" height="90"/>
<rect x="1247" y="826" width="1" height="54"/>
<rect x="1252" y="823" width="1" height="57"/>
<rect x="1257" y="843" width="1" height="37"/>
<rect x="1262" y="818" width="1" height="62"/>
<rect x="1267" y="744" width="1" height="136"/>
<rect x="1272" y="826" width="1" height="54"/>
<rect x="1277" y="847" width="1" height="33"/>
<rect x="1282" y="847" width="1" height="33"/>
<rect x="1287" y="850" width="1" height="30"/>
<rect x="1292" y="840" width="1" height="40"/>
<rect x="1296" y="861" width="1" height="19"/>
<rect x="1302" y="851" width="1" height="29"/>
<rect x="1307" y="831" width="1" height="49"/>
<rect x="1312" y="848" width="1" height="32"/>
<rect x="1317" y="849" width="1" height="31"/>
<rect x="1322" y="842" width="1" height="38"/>
<rect x="1327" y="854" width="1" height="26"/>
<rect x="1332" y="860" width="1" height="20"/>
<rect x="1337" y="852" width="1" height="28"/>
<rect x="1342" y="796" width="1" height="84"/>
<rect x="1346" y="847" width="1" height="33"/>
<rect x="1352" y="852" width="1" height="28"/>
<rect x="1357" y="860" width="1" height="20"/>
<rect x="1362" y="861" width="1" height="19"/>
<rect x="1367" y="837" width="1" height="43"/>
<rect x="1372" y="864" width="1" height="16"/>
<rect x="1377" y="858" width="1" height="22"/>
<rect x="1382" y="818" width="1" height="62"/>
<rect x="1387" y="843" width="1" height="37"/>
<rect x="1392" y="858" width="1" height="22"/>
<rect x="1397" y="852" width="1" height="28"/>
<rect x="1402" y="815" width="1" height="65"/>
<rect x="1407" y="835" width="1" height="45"/>
<rect x="1412" y="847" width="1" height="33"/>
<rect x="1417" y="856" width="1" height="24"/>
<rect x="1422" y="855" width="1" height="25"/>
<rect x="1427" y="862" width="1" height="18"/>
<rect x="1432" y="855" width="1" height="25"/>
<rect x="1437" y="860" width="1" height="20"/>
<rect x="1442" y="840" width="1" height="40"/>
<rect x="1447" y="854" width="1" height="26"/>
<rect x="1452" y="823" width="1" height="57"/>
<rect x="1457" y="843" width="1" height="37"/>
<rect x="1462" y="850" width="1" height="30"/>
<rect x="1467" y="845" width="1" height="35"/>
<rect x="1471" y="851" width="1" height="29"/>
<rect x="1477" y="849" width="1" height="31"/>
<rect x="1482" y="862" width="1" height="18"/>
<rect x="1487" y="848" width="1" height="32"/>
<rect x="1492" y="801" width="1" height="79"/>
<rect x="1497" y="858" width="1" height="22"/>
<rect x="1502" y="857" width="1" height="23"/>
<rect x="1507" y="864" width="1" height="16"/>
<rect x="1512" y="858" width="1" height="22"/>
<rect x="1517" y="865" width="1" height="15"/>
<rect x="1522" y="842" width="1" height="38"/>
<rect x="1527" y="862" width="1" height="18"/>
<rect x="1532" y="869" width="1" height="11"/>
<rect x="1537" y="858" width="1" height="22"/>
<rect x="1542" y="841" width="1" height="39"/>
<rect x="1547" y="846" width="1" height="34"/>
<rect x="1552" y="819" width="1" height="61"/>
<rect x="1557" y="806" width="1" height="74"/>
<rect x="1562" y="850" width="1" height="30"/>
<rect x="1567" y="845" width="1" height="35"/>
<rect x="1572" y="837" width="1" height="43"/>
<rect x="1577" y="827" width="1" height="53"/>
<rect x="1582" y="726" width="1" height="154"/>
<rect x="1587" y="847" width="1" height="33"/>
<rect x="1591" y="844" width="1" height="36"/>
<rect x="1597" y="839" width="1" height="41"/>
<rect x="1602" y="842" width="1" height="38"/>
<rect x="1607" y="837" width="1" height="43"/>
<rect x="1612" y="842" width="1" height="38"/>
<rect x="1617" y="856" width="1" height="24"/>
<rect x="1622" y="860" width="1" height="20"/>
<rect x="1627" y="867" width="1" height="13"/>
<rect x="1632" y="859" width="1" height="21"/>
<rect x="1637" y="859" width="1" height="21"/>
<rect x="1641" y="859" width="1" height="21"/>
<rect x="1647" y="848" width="1" height="32"/>
<rect x="1652" y="856" width="1" height="24"/>
<rect x="1657" y="848" width="1" height="32"/>
<rect x="1662" y="821" width="1" height="59"/>
<rect x="1667" y="857" width="1" height="23"/>
<rect x="1672" y="831" width="1" height="49"/>
<rect x="1677" y="824" width="1" height="56"/>
<rect x="1682" y="847" width="1" height="33"/>
<rect x="1687" y="865" width="1" height="15"/>
<rect x="1692" y="861" width="1" height="19"/>
<rect x="1697" y="858" width="1" height="22"/>
<rect x="1702" y="822" width="1" height="58"/>
<rect x="1707" y="844" width="1" height="36"/>
<rect x="1712" y="839" width="1" height="41"/>
<rect x="1716" y="824" width="1" height="56"/>
<rect x="1722" y="838" width="1" height="42"/>
<rect x="1727" y="849" width="1" height="31"/>
<rect x="1732" y="827" width="1" height="53"/>
<rect x="1737" y="848" width="1" height="32"/>
<rect x="1742" y="854" width="1" height="26"/>
<rect x="1747" y="832" width="1" height="48"/>
<rect x="1752" y="856" width="1" height="24"/>
<rect x="1757" y="852" width="1" height="28"/>
<rect x="1762" y="820" width="1" height="60"/>
<rect x="1766" y="856" width="1" height="24"/>
<rect x="1772" y="820" width="1" height="60"/>
<rect x="1777" y="835" width="1" height="45"/>
<rect x="1782" y="851" width="1" height="29"/>
<rect x="1787" y="842" width="1" height="38"/>
<rect x="1792" y="857" width="1" height="23"/>
<rect x="1797" y="865" width="1" height="15"/>
</g>
<path d="M1730 614.5h3M1728 615.5h2M1725 617.5h2M1723 618.5h2M1720 620.5h2M1718 621.5h2M1561 622.5h2M1716 622.5h2M1559 623.5h2M1555 626.5h2M1553 627.5h2M371 633.5h2M371 634.5h2M1311 637.5h2M1311 638.5h2M1311 639.5h2M1451 639.5h2M1451 640.5h2M1451 641.5h2M1581 643.5h2M1676 644.5h2M651 645.5h2M1676 645.5h2M651 646.5h2M1676 646.5h2M1704 646.5h2M331 648.5h2M331 649.5h2M331 650.5h2M331 651.5h2M331 652.5h2M1176 652.5h2M1176 653.5h2M1281 653.5h2M1281 654.5h2M1281 655.5h2M1146 656.5h2M1382 656.5h2M1144 657.5h2M1382 657.5h2M236 658.5h2M234 659.5h2M232 660.5h2M1162 662.5h2M1201 662.5h2M1782 662.5h2M317 664.5h3M207 665.5h2M320 665.5h2M1267 665.5h3M1276 665.5h2M1741 665.5h2M207 666.5h2M1270 666.5h2M1274 666.5h2M1590 666.5h2M1741 666.5h2M810 667.5h3M1272 667.5h2M1590 667.5h2M807 668.5h3M1590 668.5h2M326 670.5h2M1502 670.5h2M1737 670.5h2M1737 671.5h2M381 672.5h2M381 673.5h2M1466 673.5h2M381 674.5h2M752 674.5h6M1466 674.5h2M1587 674.5h2M161 675.5h2M381 675.5h2M1152 675.5h6M1466 675.5h2M1587 675.5h2M1765 675.5h2M161 676.5h2M1321 676.5h2M766 677.5h2M1321 677.5h2M766 678.5h2M1121 678.5h2M1321 678.5h2M766 679.5h2M766 680.5h2M377 682.5h2M7 683.5h2M226 683.5h2M377 683.5h2M7 684.5h2M26 684.5h2M377 684.5h2M991 684.5h2M1077 684.5h2M1292 684.5h5M26 685.5h2M377 685.5h2M991 685.5h2M991 686.5h2M1317 686.5h2M991 687.5h2M1317 687.5h2M991 688.5h2M1317 688.5h2M22 690.5h2M436 692.5h2M436 693.5h2M1287 695.5h2M1757 695.5h6M1287 696.5h2M1457 696.5h2M1287 697.5h2M136 699.5h2M136 700.5h2M136 701.5h2M1772 710.5h6M696 714.5h2M1032 714.5h2M696 715.5h2M1601 715.5h2M192 717.5h2M855 717.5h3M192 718.5h2M852 718.5h3M1597 719.5h2M1690 719.5h3M1016 720.5h2M1216 720.5h2M1685 720.5h5M1042 721.5h6M1216 721.5h2M1682 721.5h3M1216 722.5h2M1242 722.5h3M1571 722.5h2M937 723.5h2M1216 723.5h2M1245 723.5h3M1571 723.5h2M937 724.5h2M1216 724.5h2M1227 724.5h2M1571 724.5h2M387 725.5h3M422 725.5h3M1216 725.5h2M1227 725.5h2M390 726.5h3M425 726.5h3M1216 726.5h2M1227 726.5h2M1227 727.5h2M1362 727.5h2M1362 728.5h2M945 729.5h3M1432 729.5h2M943 730.5h2M1056 730.5h2M871 731.5h2M1054 731.5h2M1616 731.5h2M1747 731.5h2M1052 732.5h2M1747 732.5h2M715 733.5h3M1747 733.5h2M1747 734.5h2M712 735.5h2M886 738.5h2M1037 738.5h2M1436 739.5h2M1436 740.5h2M838 741.5h2M1436 741.5h2M87 742.5h3M1436 742.5h2M1482 742.5h6M90 743.5h3M342 743.5h2M1026 743.5h2M1662 743.5h2M601 744.5h2M1026 744.5h2M1626 744.5h2M1662 744.5h2M601 745.5h2M846 745.5h2M1607 745.5h2M1662 745.5h2M846 746.5h2M301 747.5h2M1212 747.5h2M52 748.5h3M1622 748.5h2M55 749.5h2M1232 749.5h2M1622 749.5h2M902 750.5h2M1232 750.5h2M902 751.5h2M902 752.5h2M1357 752.5h2M277 754.5h2M1792 754.5h6M292 755.5h2M1002 755.5h2M1632 756.5h2M281 757.5h2M101 758.5h2M39 759.5h3M582 759.5h3M741 759.5h2M1006 759.5h2M37 760.5h2M585 760.5h2M176 761.5h2M176 762.5h2M186 762.5h2M186 763.5h2M1106 763.5h2M1371 763.5h2M1104 764.5h2M1371 764.5h2M507 765.5h2M1092 765.5h2M1102 765.5h2M1342 765.5h2M1371 765.5h2M97 766.5h2M507 766.5h2M922 766.5h2M142 767.5h2M507 767.5h2M1345 767.5h2M142 768.5h2M412 768.5h6M746 768.5h2M997 768.5h2M1414 768.5h2M142 769.5h2M746 769.5h2M997 769.5h2M997 770.5h2M997 771.5h2M706 772.5h2M877 772.5h2M706 773.5h2M877 773.5h2M877 774.5h2M862 775.5h2M591 776.5h2M862 776.5h2M1 777.5h2M1 778.5h2M72 778.5h2M1 779.5h2M46 779.5h2M72 779.5h2M1 780.5h2M46 780.5h2M72 780.5h2M1 781.5h2M1 782.5h2M532 782.5h6M1 783.5h2M926 783.5h2M252 784.5h2M252 785.5h2M676 787.5h2M1182 787.5h2M676 788.5h2M822 788.5h2M1184 788.5h2M76 789.5h2M824 789.5h2M1186 789.5h2M76 790.5h2M826 790.5h2M1421 790.5h2M896 793.5h2M1067 793.5h2M618 794.5h2M896 794.5h2M620 795.5h2M896 795.5h2M1221 795.5h2M1522 795.5h2M262 796.5h6M831 796.5h2M952 796.5h2M1221 796.5h2M1522 796.5h2M831 797.5h2M954 797.5h2M1221 797.5h2M259 798.5h2M472 798.5h2M956 798.5h2M1221 798.5h2M257 799.5h2M456 799.5h2M916 799.5h2M456 800.5h2M916 800.5h2M271 802.5h2M271 803.5h2M112 804.5h6M452 805.5h2M786 805.5h2M626 806.5h2M626 807.5h2M1086 807.5h2M626 808.5h2M406 814.5h2M406 815.5h2M406 816.5h2M246 818.5h2M542 818.5h6M246 819.5h2M557 822.5h2M557 823.5h2M66 824.5h2M66 825.5h2M492 826.5h3M495 827.5h3M466 831.5h2M466 832.5h2M501 832.5h2M501 833.5h2M522 845.5h6M976 848.5h2M976 849.5h2M571 852.5h2M571 853.5h2M571 854.5h2M1732.5 613v1M1732.5 615v4M1727.5 616v1M1722.5 619v1M1733.5 619v12M1562.5 621v1M1562.5 623v6M1716.5 623v1M1558.5 624v1M1715.5 624v3M1557.5 625v1M1714.5 627v3M1552.5 628v2M1563.5 629v15M1551.5 630v2M1713.5 630v3M372.5 631v2M372.5 635v2M1734.5 631v12M1550.5 632v2M1712.5 633v2M1549.5 634v3M370.5 635v2M1312.5 635v2M1312.5 640v1M1452.5 635v4M1711.5 635v2M369.5 637v2M373.5 637v11M1548.5 637v2M1710.5 637v2M368.5 639v2M1547.5 639v3M1709.5 639v2M1310.5 640v3M1582.5 640v3M367.5 641v4M1313.5 641v11M1708.5 641v2M1451.5 642v4M1453.5 642v12M1546.5 642v4M1677.5 642v2M1677.5 647v3M1309.5 643v3M1707.5 643v2M1735.5 643v12M652.5 644v1M1564.5 644v15M1581.5 644v5M1583.5 644v8M332.5 645v3M332.5 653v2M366.5 645v5M1706.5 645v1M1308.5 646v3M1450.5 646v7M1545.5 646v3M650.5 647v2M653.5 647v4M1675.5 647v3M1703.5 647v1M374.5 648v12M1702.5 648v6M649.5 649v2M1307.5 649v3M1544.5 649v3M1580.5 649v5M365.5 650v5M1674.5 650v3M1678.5 650v16M648.5 651v2M654.5 651v4M1177.5 651v1M1177.5 654v11M1282.5 651v2M1306.5 652v3M1314.5 652v11M1543.5 652v4M1584.5 652v7M330.5 653v5M647.5 653v2M1382.5 653v3M1449.5 653v8M1673.5 653v3M1175.5 654v2M1454.5 654v13M1579.5 654v5M1701.5 654v12M333.5 655v19M364.5 655v6M646.5 655v2M655.5 655v4M1147.5 655v1M1147.5 657v1M1305.5 655v3M1736.5 655v12M1174.5 656v2M1280.5 656v2M1283.5 656v10M1542.5 656v9M1672.5 656v5M645.5 657v2M1202.5 657v5M1652.5 657v2M1782.5 657v5M329.5 658v6M1143.5 658v1M1148.5 658v4M1173.5 658v2M1279.5 658v3M1304.5 658v3M1381.5 658v10M1383.5 658v2M237.5 659v14M644.5 659v3M656.5 659v4M1142.5 659v3M1565.5 659v15M1578.5 659v6M1585.5 659v7M1651.5 659v4M1653.5 659v2M375.5 660v11M1172.5 660v2M1384.5 660v4M232.5 661v2M363.5 661v5M1162.5 661v1M1278.5 661v3M1303.5 661v3M1448.5 661v7M1654.5 661v3M1671.5 661v7M217.5 662v1M643.5 662v2M1141.5 662v6M1149.5 662v4M1171.5 662v2M216.5 663v2M218.5 663v1M231.5 663v5M317.5 663v1M657.5 663v9M1161.5 663v3M1163.5 663v1M1201.5 663v7M1203.5 663v10M1315.5 663v11M1650.5 663v3M1781.5 663v10M1783.5 663v9M207.5 664v1M207.5 667v3M219.5 664v2M328.5 664v5M642.5 664v2M1164.5 664v2M1170.5 664v2M1267.5 664v1M1267.5 666v1M1277.5 664v1M1302.5 664v3M1385.5 664v4M1591.5 664v2M1655.5 664v3M1742.5 664v1M1742.5 667v5M215.5 665v2M316.5 665v4M1178.5 665v27M1541.5 665v16M1577.5 665v9M220.5 666v1M322.5 666v1M362.5 666v3M641.5 666v1M1150.5 666v4M1160.5 666v2M1165.5 666v1M1169.5 666v1M1284.5 666v10M1586.5 666v8M1649.5 666v3M1679.5 666v16M1700.5 666v11M209.5 667v1M214.5 667v2M221.5 667v1M323.5 667v1M640.5 667v1M1166.5 667v2M1168.5 667v2M1266.5 667v4M1301.5 667v3M1455.5 667v12M1656.5 667v2M1737.5 667v3M1737.5 672v1M1740.5 667v1M210.5 668v1M222.5 668v2M230.5 668v5M324.5 668v1M639.5 668v2M812.5 668v6M1140.5 668v6M1159.5 668v3M1380.5 668v10M1386.5 668v4M1447.5 668v6M1502.5 668v2M1670.5 668v7M1739.5 668v2M211.5 669v2M213.5 669v2M315.5 669v3M325.5 669v1M327.5 669v1M327.5 671v1M361.5 669v1M807.5 669v3M1167.5 669v1M1589.5 669v4M1592.5 669v10M1648.5 669v4M1657.5 669v10M206.5 670v10M223.5 670v4M360.5 670v1M382.5 670v2M638.5 670v1M1151.5 670v4M1200.5 670v8M1300.5 670v3M212.5 671v1M359.5 671v1M376.5 671v11M637.5 671v8M1158.5 671v3M1265.5 671v5M1467.5 671v2M1501.5 671v5M1503.5 671v3M314.5 672v4M358.5 672v1M658.5 672v16M806.5 672v8M1387.5 672v6M1743.5 672v15M1766.5 672v3M1784.5 672v10M229.5 673v5M238.5 673v30M357.5 673v1M767.5 673v4M1077.5 673v11M1204.5 673v11M1299.5 673v4M1588.5 673v1M1647.5 673v4M1780.5 673v11M162.5 674v1M162.5 677v3M224.5 674v3M334.5 674v18M356.5 674v2M813.5 674v12M1139.5 674v6M1152.5 674v1M1157.5 674v1M1316.5 674v11M1322.5 674v2M1322.5 679v1M1446.5 674v4M1504.5 674v4M1566.5 674v15M1576.5 674v12M752.5 675v9M757.5 675v3M1669.5 675v8M313.5 676v4M355.5 676v2M380.5 676v3M383.5 676v11M1264.5 676v5M1285.5 676v9M1466.5 676v1M1468.5 676v10M1500.5 676v5M1587.5 676v2M1765.5 676v5M1767.5 676v6M160.5 677v2M225.5 677v3M1122.5 677v1M1298.5 677v3M1465.5 677v4M1646.5 677v6M1699.5 677v12M228.5 678v5M354.5 678v2M758.5 678v7M1199.5 678v9M1379.5 678v10M1388.5 678v9M1445.5 678v4M1505.5 678v4M17.5 679v2M159.5 679v2M379.5 679v3M636.5 679v16M992.5 679v5M1121.5 679v1M1123.5 679v3M1320.5 679v3M1456.5 679v12M1593.5 679v9M1658.5 679v16M163.5 680v12M205.5 680v10M226.5 680v3M312.5 680v4M353.5 680v2M805.5 680v8M1120.5 680v2M1138.5 680v6M1297.5 680v3M1323.5 680v12M7.5 681v2M7.5 685v7M16.5 681v3M18.5 681v2M158.5 681v2M766.5 681v4M768.5 681v14M1263.5 681v4M1464.5 681v4M1499.5 681v5M1540.5 681v16M1764.5 681v6M352.5 682v6M1119.5 682v2M1124.5 682v3M1319.5 682v4M1444.5 682v4M1506.5 682v4M1680.5 682v16M1768.5 682v6M1785.5 682v9M19.5 683v3M27.5 683v1M27.5 686v2M157.5 683v5M1296.5 683v1M1645.5 683v6M1668.5 683v7M15.5 684v2M227.5 684v2M311.5 684v6M751.5 684v20M1118.5 684v2M1205.5 684v10M1779.5 684v11M9.5 685v3M759.5 685v8M765.5 685v7M1076.5 685v23M1078.5 685v19M1125.5 685v3M1262.5 685v5M1286.5 685v10M1292.5 685v1M1317.5 685v1M1317.5 689v2M1463.5 685v4M14.5 686v3M20.5 686v2M25.5 686v1M377.5 686v2M814.5 686v12M1117.5 686v6M1137.5 686v4M1291.5 686v3M1443.5 686v4M1469.5 686v9M1498.5 686v5M1507.5 686v8M1575.5 686v12M24.5 687v2M384.5 687v11M1198.5 687v8M1389.5 687v9M1744.5 687v15M1763.5 687v6M10.5 688v2M21.5 688v2M28.5 688v8M156.5 688v8M351.5 688v8M659.5 688v16M804.5 688v8M1126.5 688v3M1378.5 688v10M1594.5 688v9M1769.5 688v7M13.5 689v3M23.5 689v1M991.5 689v5M993.5 689v19M1290.5 689v3M1462.5 689v3M1567.5 689v11M1644.5 689v6M1698.5 689v12M11.5 690v2M204.5 690v10M310.5 690v5M1136.5 690v2M1261.5 690v4M1442.5 690v8M1667.5 690v9M22.5 691v1M437.5 691v1M437.5 694v3M1127.5 691v3M1457.5 691v5M1457.5 697v1M1497.5 691v3M1786.5 691v10M6.5 692v21M12.5 692v2M164.5 692v11M335.5 692v19M764.5 692v7M1116.5 692v9M1135.5 692v2M1179.5 692v28M1289.5 692v3M1324.5 692v12M1461.5 692v1M760.5 693v7M1460.5 693v1M1762.5 693v2M435.5 694v2M990.5 694v10M1128.5 694v2M1134.5 694v2M1206.5 694v10M1260.5 694v4M1459.5 694v2M1496.5 694v2M1508.5 694v12M309.5 695v6M635.5 695v16M769.5 695v15M1197.5 695v6M1470.5 695v10M1643.5 695v6M1659.5 695v16M1770.5 695v6M1778.5 695v10M29.5 696v9M155.5 696v8M350.5 696v9M434.5 696v2M803.5 696v8M1129.5 696v2M1133.5 696v2M1390.5 696v9M1495.5 696v1M1756.5 696v1M137.5 697v2M137.5 702v3M438.5 697v10M1494.5 697v1M1539.5 697v16M1595.5 697v10M1755.5 697v1M385.5 698v11M433.5 698v2M815.5 698v12M1130.5 698v2M1132.5 698v2M1259.5 698v5M1287.5 698v2M1377.5 698v12M1441.5 698v10M1493.5 698v2M1574.5 698v12M1681.5 698v16M1754.5 698v2M763.5 699v8M1666.5 699v12M203.5 700v10M432.5 700v3M761.5 700v7M1131.5 700v1M1492.5 700v5M1568.5 700v6M1753.5 700v1M308.5 701v6M1115.5 701v9M1196.5 701v3M1642.5 701v6M1697.5 701v7M1752.5 701v4M1771.5 701v6M1787.5 701v9M135.5 702v3M1745.5 702v14M165.5 703v12M239.5 703v30M431.5 703v6M1258.5 703v4M154.5 704v8M660.5 704v16M750.5 704v19M802.5 704v7M989.5 704v10M1079.5 704v20M1195.5 704v3M1207.5 704v10M1325.5 704v11M30.5 705v9M134.5 705v3M138.5 705v15M349.5 705v9M1391.5 705v9M1471.5 705v6M1491.5 705v8M1751.5 705v8M1777.5 705v5M287.5 706v6M1509.5 706v12M1569.5 706v7M307.5 707v7M439.5 707v11M762.5 707v4M1194.5 707v3M1257.5 707v3M1596.5 707v9M1641.5 707v8M1772.5 707v3M133.5 708v3M994.5 708v19M1075.5 708v23M1440.5 708v10M1696.5 708v2M386.5 709v11M430.5 709v5M202.5 710v6M770.5 710v14M816.5 710v12M1114.5 710v9M1193.5 710v3M1256.5 710v2M1376.5 710v13M1573.5 710v12M1695.5 710v3M1788.5 710v10M132.5 711v6M336.5 711v12M634.5 711v16M801.5 711v8M1032.5 711v3M1472.5 711v2M1660.5 711v16M1665.5 711v11M153.5 712v8M286.5 712v10M288.5 712v11M697.5 712v2M1255.5 712v2M5.5 713v21M1192.5 713v9M1473.5 713v3M1490.5 713v8M1538.5 713v16M1570.5 713v6M1694.5 713v3M1750.5 713v7M31.5 714v8M306.5 714v8M348.5 714v8M429.5 714v5M988.5 714v10M1208.5 714v8M1254.5 714v2M1352.5 714v5M1392.5 714v10M1602.5 714v1M1602.5 716v2M1682.5 714v7M166.5 715v8M1031.5 715v7M1033.5 715v5M1326.5 715v12M1640.5 715v11M192.5 716v1M192.5 719v3M201.5 716v2M696.5 716v1M698.5 716v7M1217.5 716v4M1217.5 727v1M1253.5 716v2M1474.5 716v2M1597.5 716v3M1597.5 720v1M1600.5 716v1M1693.5 716v2M1746.5 716v15M131.5 717v10M695.5 717v2M1599.5 717v2M200.5 718v1M440.5 718v10M857.5 718v6M1252.5 718v1M1439.5 718v11M1475.5 718v3M1510.5 718v12M1603.5 718v6M1692.5 718v1M194.5 719v1M199.5 719v2M428.5 719v6M694.5 719v3M800.5 719v8M852.5 719v2M1017.5 719v1M1113.5 719v9M1251.5 719v1M1351.5 719v9M1353.5 719v8M1571.5 719v3M139.5 720v15M152.5 720v8M195.5 720v1M297.5 720v4M387.5 720v5M661.5 720v16M1034.5 720v6M1180.5 720v27M1227.5 720v4M1250.5 720v1M1749.5 720v7M1789.5 720v10M196.5 721v2M198.5 721v2M851.5 721v6M1016.5 721v1M1018.5 721v3M1249.5 721v1M1476.5 721v2M1489.5 721v9M32.5 722v8M191.5 722v10M285.5 722v10M305.5 722v8M347.5 722v6M693.5 722v3M817.5 722v13M937.5 722v1M1015.5 722v1M1030.5 722v7M1042.5 722v1M1047.5 722v1M1191.5 722v15M1209.5 722v9M1248.5 722v1M1664.5 722v12M167.5 723v4M197.5 723v1M289.5 723v11M337.5 723v4M699.5 723v7M749.5 723v19M1014.5 723v2M1041.5 723v4M1048.5 723v2M1242.5 723v1M1375.5 723v13M1477.5 723v3M296.5 724v8M298.5 724v6M422.5 724v1M422.5 726v3M771.5 724v14M858.5 724v12M987.5 724v10M1019.5 724v4M1080.5 724v20M1241.5 724v4M1393.5 724v10M1604.5 724v7M427.5 725v1M427.5 727v1M692.5 725v2M936.5 725v6M939.5 725v2M1013.5 725v1M1049.5 725v3M1362.5 725v2M1572.5 725v4M1012.5 726v2M1035.5 726v6M1478.5 726v4M1639.5 726v10M130.5 727v10M168.5 727v4M338.5 727v4M392.5 727v1M633.5 727v16M691.5 727v2M799.5 727v8M850.5 727v6M872.5 727v4M940.5 727v2M995.5 727v19M1040.5 727v4M1215.5 727v7M1327.5 727v9M1354.5 727v9M1432.5 727v2M1661.5 727v16M1748.5 727v4M151.5 728v6M346.5 728v4M393.5 728v4M441.5 728v10M947.5 728v1M947.5 730v5M1011.5 728v4M1020.5 728v3M1050.5 728v2M1112.5 728v8M1218.5 728v22M1226.5 728v14M1228.5 728v2M1240.5 728v4M1350.5 728v9M421.5 729v9M690.5 729v1M941.5 729v2M1029.5 729v7M1057.5 729v1M1057.5 731v3M1361.5 729v6M1364.5 729v3M1438.5 729v10M1537.5 729v12M1617.5 729v2M33.5 730v7M299.5 730v6M304.5 730v9M689.5 730v2M700.5 730v6M1051.5 730v2M1229.5 730v6M1431.5 730v6M1433.5 730v3M1479.5 730v4M1488.5 730v8M1511.5 730v12M1790.5 730v10M169.5 731v5M339.5 731v4M935.5 731v5M942.5 731v1M1021.5 731v3M1039.5 731v4M1074.5 731v24M1210.5 731v8M1605.5 731v6M182.5 732v4M190.5 732v10M284.5 732v11M295.5 732v8M345.5 732v4M394.5 732v4M688.5 732v2M717.5 732v1M717.5 734v3M871.5 732v7M873.5 732v10M1010.5 732v8M1036.5 732v6M1239.5 732v4M1365.5 732v2M1616.5 732v1M1618.5 732v4M240.5 733v29M849.5 733v6M1052.5 733v1M1434.5 733v3M1615.5 733v2M4.5 734v22M150.5 734v6M290.5 734v10M687.5 734v1M714.5 734v1M986.5 734v11M1022.5 734v3M1058.5 734v8M1214.5 734v7M1366.5 734v2M1394.5 734v11M1480.5 734v3M1663.5 734v9M140.5 735v14M340.5 735v4M686.5 735v1M798.5 735v8M818.5 735v12M887.5 735v3M948.5 735v14M1038.5 735v3M1360.5 735v6M1614.5 735v2M1747.5 735v4M170.5 736v4M181.5 736v6M183.5 736v7M300.5 736v6M344.5 736v4M395.5 736v4M662.5 736v10M685.5 736v1M701.5 736v7M711.5 736v6M859.5 736v12M934.5 736v6M1028.5 736v7M1111.5 736v6M1230.5 736v6M1238.5 736v4M1328.5 736v6M1355.5 736v8M1367.5 736v5M1374.5 736v14M1430.5 736v5M1435.5 736v3M1619.5 736v4M1638.5 736v11M34.5 737v7M129.5 737v10M684.5 737v1M718.5 737v8M1023.5 737v2M1190.5 737v15M1349.5 737v9M1481.5 737v4M1606.5 737v6M1613.5 737v2M420.5 738v8M442.5 738v10M683.5 738v1M772.5 738v10M842.5 738v1M1487.5 738v4M303.5 739v8M341.5 739v4M682.5 739v5M841.5 739v1M843.5 739v2M848.5 739v6M870.5 739v8M886.5 739v4M888.5 739v6M1024.5 739v2M1037.5 739v2M1211.5 739v8M1612.5 739v2M149.5 740v7M171.5 740v4M294.5 740v8M343.5 740v3M396.5 740v4M840.5 740v1M1009.5 740v8M1237.5 740v3M1620.5 740v4M1791.5 740v10M844.5 741v2M1025.5 741v2M1213.5 741v6M1359.5 741v6M1368.5 741v6M1429.5 741v5M1482.5 741v1M1536.5 741v7M1611.5 741v1M180.5 742v6M189.5 742v10M301.5 742v5M710.5 742v10M748.5 742v20M837.5 742v1M874.5 742v10M933.5 742v6M1059.5 742v9M1110.5 742v6M1225.5 742v14M1231.5 742v6M1329.5 742v6M1512.5 742v7M1610.5 742v1M87.5 743v1M184.5 743v7M283.5 743v10M602.5 743v1M632.5 743v13M702.5 743v7M797.5 743v8M836.5 743v7M845.5 743v2M885.5 743v5M1236.5 743v2M1437.5 743v2M1607.5 743v2M1607.5 746v1M1609.5 743v2M1627.5 743v1M35.5 744v6M86.5 744v3M92.5 744v2M172.5 744v4M291.5 744v11M342.5 744v2M397.5 744v6M681.5 744v10M1081.5 744v20M1356.5 744v8M1621.5 744v4M719.5 745v9M889.5 745v7M985.5 745v11M1027.5 745v2M1235.5 745v2M1395.5 745v11M1626.5 745v1M1628.5 745v3M93.5 746v5M419.5 746v9M600.5 746v2M603.5 746v4M663.5 746v5M996.5 746v19M1348.5 746v9M1428.5 746v6M1625.5 746v1M1662.5 746v6M52.5 747v1M52.5 749v2M85.5 747v2M128.5 747v10M148.5 747v6M819.5 747v12M847.5 747v1M869.5 747v8M1181.5 747v27M1234.5 747v2M1358.5 747v5M1369.5 747v7M1624.5 747v1M1637.5 747v6M173.5 748v4M179.5 748v7M293.5 748v7M302.5 748v4M443.5 748v9M599.5 748v2M773.5 748v6M860.5 748v12M884.5 748v6M902.5 748v2M932.5 748v6M1008.5 748v8M1109.5 748v6M1212.5 748v4M1232.5 748v1M1232.5 751v1M1330.5 748v6M1535.5 748v6M1629.5 748v3M84.5 749v3M141.5 749v15M949.5 749v14M1513.5 749v1M36.5 750v7M57.5 750v5M185.5 750v7M398.5 750v10M598.5 750v2M604.5 750v4M703.5 750v6M835.5 750v14M1219.5 750v23M1373.5 750v13M1514.5 750v1M1622.5 750v1M1792.5 750v4M51.5 751v7M94.5 751v5M664.5 751v5M796.5 751v10M1060.5 751v8M1515.5 751v1M1630.5 751v2M83.5 752v3M174.5 752v4M188.5 752v10M597.5 752v4M709.5 752v10M875.5 752v10M890.5 752v7M1189.5 752v15M1427.5 752v6M1516.5 752v1M147.5 753v5M277.5 753v1M277.5 755v4M282.5 753v4M282.5 758v1M901.5 753v10M904.5 753v3M1357.5 753v4M1517.5 753v5M1631.5 753v3M1636.5 753v1M605.5 754v4M680.5 754v10M720.5 754v8M774.5 754v6M883.5 754v5M931.5 754v7M1002.5 754v1M1108.5 754v6M1331.5 754v6M1370.5 754v6M1534.5 754v7M1635.5 754v1M58.5 755v8M82.5 755v5M178.5 755v6M279.5 755v1M418.5 755v9M868.5 755v8M1073.5 755v23M1347.5 755v9M1634.5 755v1M3.5 756v21M95.5 756v5M102.5 756v2M175.5 756v3M280.5 756v1M292.5 756v5M596.5 756v5M631.5 756v12M665.5 756v4M704.5 756v6M905.5 756v2M984.5 756v12M1001.5 756v4M1004.5 756v2M1007.5 756v3M1007.5 760v1M1224.5 756v15M1396.5 756v10M37.5 757v3M127.5 757v6M186.5 757v5M444.5 757v9M1632.5 757v1M41.5 758v1M41.5 760v1M50.5 758v7M146.5 758v3M606.5 758v4M742.5 758v1M906.5 758v3M1005.5 758v1M1426.5 758v8M1518.5 758v9M101.5 759v1M103.5 759v6M176.5 759v2M276.5 759v10M820.5 759v12M882.5 759v4M891.5 759v6M1061.5 759v8M81.5 760v7M100.5 760v2M399.5 760v10M507.5 760v5M582.5 760v4M666.5 760v5M740.5 760v1M743.5 760v2M775.5 760v6M861.5 760v12M1000.5 760v4M1107.5 760v3M1332.5 760v4M1371.5 760v3M42.5 761v4M96.5 761v5M145.5 761v3M586.5 761v1M595.5 761v5M739.5 761v2M795.5 761v10M907.5 761v4M930.5 761v7M1533.5 761v7M99.5 762v3M241.5 762v30M587.5 762v3M607.5 762v3M705.5 762v6M708.5 762v10M721.5 762v8M744.5 762v3M747.5 762v6M747.5 770v2M876.5 762v10M59.5 763v8M126.5 763v4M177.5 763v2M738.5 763v1M867.5 763v6M881.5 763v3M900.5 763v10M922.5 763v3M950.5 763v13M142.5 764v3M142.5 770v2M144.5 764v3M187.5 764v4M417.5 764v4M581.5 764v9M679.5 764v10M737.5 764v2M834.5 764v14M999.5 764v4M1082.5 764v14M1092.5 764v1M1092.5 766v2M1333.5 764v2M1342.5 764v1M1346.5 764v3M1346.5 768v1M43.5 765v4M49.5 765v7M98.5 765v1M104.5 765v6M588.5 765v3M608.5 765v2M667.5 765v4M745.5 765v3M892.5 765v7M908.5 765v4M997.5 765v3M997.5 772v3M445.5 766v8M594.5 766v5M736.5 766v3M776.5 766v6M880.5 766v3M1094.5 766v2M1101.5 766v1M1334.5 766v3M1341.5 766v2M1344.5 766v1M1372.5 766v4M1397.5 766v8M1412.5 766v1M1425.5 766v8M80.5 767v7M97.5 767v2M125.5 767v3M609.5 767v2M921.5 767v8M923.5 767v3M1062.5 767v7M1100.5 767v1M1188.5 767v15M1411.5 767v1M1413.5 767v1M1519.5 767v10M506.5 768v15M508.5 768v7M589.5 768v3M630.5 768v12M706.5 768v4M929.5 768v8M983.5 768v11M1091.5 768v8M1095.5 768v1M1099.5 768v1M1340.5 768v2M1410.5 768v1M1532.5 768v4M44.5 769v4M275.5 769v10M412.5 769v5M610.5 769v2M668.5 769v3M735.5 769v2M866.5 769v2M879.5 769v3M909.5 769v4M1096.5 769v1M1098.5 769v1M1335.5 769v3M1409.5 769v1M1416.5 769v1M124.5 770v3M400.5 770v9M722.5 770v10M924.5 770v5M1097.5 770v1M1339.5 770v2M1408.5 770v1M1417.5 770v3M60.5 771v8M105.5 771v5M590.5 771v3M593.5 771v5M611.5 771v2M734.5 771v3M794.5 771v10M821.5 771v12M865.5 771v2M1223.5 771v14M1407.5 771v3M48.5 772v7M669.5 772v3M777.5 772v5M862.5 772v3M862.5 777v2M893.5 772v6M1336.5 772v2M1338.5 772v2M1531.5 772v2M0.5 773v4M45.5 773v4M123.5 773v4M580.5 773v8M612.5 773v3M864.5 773v2M899.5 773v10M910.5 773v4M1220.5 773v22M1418.5 773v4M79.5 774v8M411.5 774v10M446.5 774v9M591.5 774v2M678.5 774v10M707.5 774v4M733.5 774v3M1063.5 774v4M1182.5 774v13M1337.5 774v2M1398.5 774v5M1406.5 774v5M1424.5 774v8M1530.5 774v1M509.5 775v9M670.5 775v3M877.5 775v2M920.5 775v8M925.5 775v5M1529.5 775v1M72.5 776v2M72.5 781v1M106.5 776v6M613.5 776v4M928.5 776v7M951.5 776v14M1090.5 776v8M1528.5 776v2M46.5 777v2M122.5 777v4M592.5 777v2M732.5 777v7M778.5 777v4M911.5 777v4M1419.5 777v5M1520.5 777v9M671.5 778v3M833.5 778v14M894.5 778v6M1064.5 778v5M1072.5 778v12M1083.5 778v10M1527.5 778v3M61.5 779v8M274.5 779v10M401.5 779v10M982.5 779v12M1399.5 779v6M1405.5 779v5M614.5 780v4M629.5 780v12M723.5 780v12M926.5 780v3M47.5 781v2M74.5 781v4M121.5 781v5M579.5 781v9M672.5 781v2M779.5 781v5M793.5 781v10M912.5 781v4M1526.5 781v4M71.5 782v10M78.5 782v7M107.5 782v5M252.5 782v2M1187.5 782v7M1420.5 782v5M1423.5 782v8M447.5 783v6M505.5 783v14M532.5 783v6M537.5 783v3M673.5 783v2M822.5 783v5M898.5 783v10M919.5 783v8M1065.5 783v5M2.5 784v4M410.5 784v10M510.5 784v9M615.5 784v4M677.5 784v3M677.5 789v1M731.5 784v10M895.5 784v6M927.5 784v3M1089.5 784v8M1404.5 784v6M75.5 785v3M674.5 785v1M913.5 785v4M1222.5 785v10M1400.5 785v5M1525.5 785v4M120.5 786v5M251.5 786v8M253.5 786v2M538.5 786v7M675.5 786v1M780.5 786v4M1521.5 786v9M62.5 787v7M108.5 787v4M1421.5 787v3M76.5 788v1M254.5 788v4M616.5 788v4M1066.5 788v4M1084.5 788v9M273.5 789v10M402.5 789v7M448.5 789v4M531.5 789v12M914.5 789v4M1524.5 789v4M578.5 790v9M781.5 790v4M896.5 790v3M952.5 790v6M1071.5 790v1M1401.5 790v5M1403.5 790v5M77.5 791v2M109.5 791v4M119.5 791v6M792.5 791v6M828.5 791v2M918.5 791v8M981.5 791v13M1070.5 791v1M1422.5 791v3M70.5 792v11M242.5 792v16M255.5 792v3M617.5 792v2M628.5 792v12M724.5 792v11M832.5 792v4M832.5 798v1M1067.5 792v1M1067.5 794v1M1069.5 792v1M1088.5 792v8M449.5 793v4M511.5 793v10M539.5 793v8M829.5 793v2M915.5 793v4M1523.5 793v2M63.5 794v8M250.5 794v8M409.5 794v10M730.5 794v11M782.5 794v4M110.5 795v4M256.5 795v4M472.5 795v3M830.5 795v1M1402.5 795v3M403.5 796v5M622.5 796v2M897.5 796v3M118.5 797v5M261.5 797v1M268.5 797v2M450.5 797v4M504.5 797v15M791.5 797v2M916.5 797v2M1085.5 797v10M1522.5 797v3M457.5 798v1M623.5 798v3M783.5 798v2M111.5 799v4M269.5 799v2M272.5 799v3M272.5 804v1M471.5 799v8M473.5 799v4M577.5 799v10M790.5 799v2M957.5 799v1M1221.5 799v8M257.5 800v1M784.5 800v2M958.5 800v3M1087.5 800v7M270.5 801v1M404.5 801v6M451.5 801v4M455.5 801v1M458.5 801v6M530.5 801v13M540.5 801v7M624.5 801v3M789.5 801v2M917.5 801v2M64.5 802v8M117.5 802v2M249.5 802v8M454.5 802v2M785.5 802v2M69.5 803v11M112.5 803v1M474.5 803v5M512.5 803v8M725.5 803v11M788.5 803v2M959.5 803v4M408.5 804v10M453.5 804v1M625.5 804v2M627.5 804v2M627.5 809v2M786.5 804v1M980.5 804v13M729.5 805v11M452.5 806v1M787.5 806v1M405.5 807v5M459.5 807v6M470.5 807v7M960.5 807v3M243.5 808v3M475.5 808v5M541.5 808v7M1086.5 808v4M576.5 809v10M65.5 810v8M248.5 810v8M961.5 810v3M244.5 811v3M513.5 811v6M406.5 812v2M503.5 812v15M460.5 813v6M476.5 813v5M962.5 813v4M68.5 814v10M245.5 814v3M469.5 814v8M529.5 814v13M726.5 814v12M542.5 815v3M728.5 816v10M246.5 817v1M407.5 817v3M514.5 817v7M963.5 817v4M979.5 817v14M66.5 818v6M477.5 818v3M461.5 819v4M547.5 819v2M575.5 819v11M247.5 820v2M478.5 821v1M487.5 821v1M548.5 821v5M557.5 821v1M964.5 821v4M468.5 822v8M479.5 822v2M486.5 822v1M488.5 822v1M462.5 823v2M485.5 823v1M489.5 823v1M480.5 824v1M484.5 824v1M490.5 824v1M515.5 824v7M556.5 824v4M559.5 824v2M463.5 825v2M481.5 825v1M483.5 825v1M491.5 825v1M965.5 825v4M67.5 826v4M482.5 826v1M549.5 826v5M560.5 826v2M727.5 826v6M464.5 827v2M502.5 827v5M502.5 834v1M528.5 827v12M498.5 828v2M555.5 828v4M561.5 828v2M465.5 829v2M966.5 829v4M467.5 830v1M467.5 833v1M499.5 830v1M562.5 830v2M574.5 830v11M500.5 831v1M516.5 831v6M550.5 831v5M978.5 831v13M554.5 832v5M563.5 832v2M967.5 833v2M564.5 834v3M968.5 835v2M551.5 836v5M517.5 837v4M553.5 837v4M565.5 837v2M969.5 837v2M527.5 839v6M566.5 839v2M970.5 839v1M971.5 840v2M518.5 841v1M552.5 841v3M567.5 841v3M573.5 841v10M519.5 842v1M972.5 842v1M520.5 843v1M973.5 843v2M521.5 844v1M568.5 844v3M977.5 844v4M977.5 850v1M974.5 845v2M569.5 847v3M975.5 847v1M570.5 850v2M572.5 851v1M572.5 855v2" stroke="#f00" stroke-width="1" fill="none"/>
<path d="M47.5,176.3H52V174.3L56.2,177.3L52,180.3V178.3H47.5Z" fill="#008000" shape-rendering="auto"/>
<path d="M83,181.3H87V179.3L91.2,182.4L87,185.6V183.4H83Z" fill="#f00" shape-rendering="auto"/>
<rect x="1855" y="0" width="1" height="881" fill="#000"/>
<g fill="#000">
<rect x="1856" y="4" width="2" height="1"/>
<rect x="1856" y="8" width="2" height="1"/>
<rect x="1856" y="13" width="2" height="1"/>
<rect x="1856" y="18" width="5" height="1"/>
<rect x="1856" y="23" width="2" height="1"/>
<rect x="1856" y="27" width="2" height="1"/>
<rect x="1856" y="32" width="2" height="1"/>
<rect x="1856" y="37" width="2" height="1"/>
<rect x="1856" y="41" width="5" height="1"/>
<rect x="1856" y="46" width="2" height="1"/>
<rect x="1856" y="51" width="2" height="1"/>
<rect x="1856" y="56" width="2" height="1"/>
<rect x="1856" y="60" width="2" height="1"/>
<rect x="1856" y="65" width="5" height="1"/>
<rect x="1856" y="70" width="2" height="1"/>
<rect x="1856" y="75" width="2" height="1"/>
<rect x="1856" y="79" width="2" height="1"/>
<rect x="1856" y="84" width="2" height="1"/>
<rect x="1856" y="89" width="5" height="1"/>
<rect x="1856" y="94" width="2" height="1"/>
<rect x="1856" y="98" width="2" height="1"/>
<rect x="1856" y="103" width="2" height="1"/>
<rect x="1856" y="108" width="2" height="1"/>
<rect x="1856" y="113" width="5" height="1"/>
<rect x="1856" y="117" width="2" height="1"/>
<rect x="1856" y="122" width="2" height="1"/>
<rect x="1856" y="127" width="2" height="1"/>
<rect x="1856" y="131" width="2" height="1"/>
<rect x="1856" y="136" width="5" height="1"/>
<rect x="1856" y="141" width="2" height="1"/>
<rect x="1856" y="146" width="2" height="1"/>
<rect x="1856" y="150" width="2" height="1"/>
<rect x="1856" y="155" width="2" height="1"/>
<rect x="1856" y="160" width="5" height="1"/>
<rect x="1856" y="165" width="2" height="1"/>
<rect x="1856" y="169" width="2" height="1"/>
<rect x="1856" y="174" width="2" height="1"/>
<rect x="1856" y="179" width="2" height="1"/>
<rect x="1856" y="184" width="5" height="1"/>
<rect x="1856" y="188" width="2" height="1"/>
<rect x="1856" y="193" width="2" height="1"/>
<rect x="1856" y="198" width="2" height="1"/>
<rect x="1856" y="203" width="2" height="1"/>
<rect x="1856" y="207" width="5" height="1"/>
<rect x="1856" y="212" width="2" height="1"/>
<rect x="1856" y="217" width="2" height="1"/>
<rect x="1856" y="221" width="2" height="1"/>
<rect x="1856" y="226" width="2" height="1"/>
<rect x="1856" y="231" width="5" height="1"/>
<rect x="1856" y="236" width="2" height="1"/>
<rect x="1856" y="240" width="2" height="1"/>
<rect x="1856" y="245" width="2" height="1"/>
<rect x="1856" y="250" width="2" height="1"/>
<rect x="1856" y="255" width="5" height="1"/>
<rect x="1856" y="259" width="2" height="1"/>
<rect x="1856" y="264" width="2" height="1"/>
<rect x="1856" y="269" width="2" height="1"/>
<rect x="1856" y="274" width="2" height="1"/>
<rect x="1856" y="278" width="5" height="1"/>
<rect x="1856" y="283" width="2" height="1"/>
<rect x="1856" y="288" width="2" height="1"/>
<rect x="1856" y="293" width="2" height="1"/>
<rect x="1856" y="297" width="2" height="1"/>
<rect x="1856" y="302" width="5" height="1"/>
<rect x="1856" y="307" width="2" height="1"/>
<rect x="1856" y="311" width="2" height="1"/>
<rect x="1856" y="316" width="2" height="1"/>
<rect x="1856" y="321" width="2" height="1"/>
<rect x="1856" y="326" width="5" height="1"/>
<rect x="1856" y="330" width="2" height="1"/>
<rect x="1856" y="335" width="2" height="1"/>
<rect x="1856" y="340" width="2" height="1"/>
<rect x="1856" y="345" width="2" height="1"/>
<rect x="1856" y="349" width="5" height="1"/>
<rect x="1856" y="354" width="2" height="1"/>
<rect x="1856" y="359" width="2" height="1"/>
<rect x="1856" y="364" width="2" height="1"/>
<rect x="1856" y="368" width="2" height="1"/>
<rect x="1856" y="373" width="5" height="1"/>
<rect x="1856" y="378" width="2" height="1"/>
<rect x="1856" y="383" width="2" height="1"/>
<rect x="1856" y="387" width="2" height="1"/>
<rect x="1856" y="392" width="2" height="1"/>
<rect x="1856" y="397" width="5" height="1"/>
<rect x="1856" y="401" width="2" height="1"/>
<rect x="1856" y="406" width="2" height="1"/>
<rect x="1856" y="411" width="2" height="1"/>
<rect x="1856" y="416" width="2" height="1"/>
<rect x="1856" y="420" width="5" height="1"/>
<rect x="1856" y="425" width="2" height="1"/>
<rect x="1856" y="430" width="2" height="1"/>
<rect x="1856" y="435" width="2" height="1"/>
<rect x="1856" y="439" width="2" height="1"/>
<rect x="1856" y="444" width="5" height="1"/>
<rect x="1856" y="449" width="2" height="1"/>
<rect x="1856" y="454" width="2" height="1"/>
<rect x="1856" y="458" width="2" height="1"/>
<rect x="1856" y="463" width="2" height="1"/>
<rect x="1856" y="468" width="5" height="1"/>
<rect x="1856" y="473" width="2" height="1"/>
<rect x="1856" y="477" width="2" height="1"/>
<rect x="1856" y="482" width="2" height="1"/>
<rect x="1856" y="487" width="2" height="1"/>
<rect x="1856" y="492" width="5" height="1"/>
<rect x="1856" y="496" width="2" height="1"/>
<rect x="1856" y="501" width="2" height="1"/>
<rect x="1856" y="506" width="2" height="1"/>
<rect x="1856" y="510" width="2" height="1"/>
<rect x="1856" y="515" width="5" height="1"/>
<rect x="1856" y="520" width="2" height="1"/>
<rect x="1856" y="525" width="2" height="1"/>
<rect x="1856" y="529" width="2" height="1"/>
<rect x="1856" y="534" width="2" height="1"/>
<rect x="1856" y="539" width="5" height="1"/>
<rect x="1856" y="544" width="2" height="1"/>
<rect x="1856" y="548" width="2" height="1"/>
<rect x="1856" y="553" width="2" height="1"/>
<rect x="1856" y="558" width="2" height="1"/>
<rect x="1856" y="563" width="5" height="1"/>
<rect x="1856" y="567" width="2" height="1"/>
<rect x="1856" y="572" width="2" height="1"/>
<rect x="1856" y="577" width="2" height="1"/>
<rect x="1856" y="582" width="2" height="1"/>
<rect x="1856" y="586" width="5" height="1"/>
<rect x="1856" y="593" width="2" height="1"/>
<rect x="1856" y="600" width="5" height="1"/>
<rect x="1856" y="607" width="2" height="1"/>
<rect x="1856" y="613" width="5" height="1"/>
<rect x="1856" y="620" width="2" height="1"/>
<rect x="1856" y="627" width="5" height="1"/>
<rect x="1856" y="633" width="2" height="1"/>
<rect x="1856" y="640" width="5" height="1"/>
<rect x="1856" y="647" width="2" height="1"/>
<rect x="1856" y="653" width="5" height="1"/>
<rect x="1856" y="660" width="2" height="1"/>
<rect x="1856" y="667" width="5" height="1"/>
<rect x="1856" y="673" width="2" height="1"/>
<rect x="1856" y="680" width="5" height="1"/>
<rect x="1856" y="687" width="2" height="1"/>
<rect x="1856" y="693" width="5" height="1"/>
<rect x="1856" y="700" width="2" height="1"/>
<rect x="1856" y="707" width="5" height="1"/>
<rect x="1856" y="713" width="2" height="1"/>
<rect x="1856" y="720" width="5" height="1"/>
<rect x="1856" y="727" width="2" height="1"/>
<rect x="1856" y="733" width="5" height="1"/>
<rect x="1856" y="740" width="2" height="1"/>
<rect x="1856" y="747" width="5" height="1"/>
<rect x="1856" y="753" width="2" height="1"/>
<rect x="1856" y="760" width="5" height="1"/>
<rect x="1856" y="767" width="2" height="1"/>
<rect x="1856" y="774" width="5" height="1"/>
<rect x="1856" y="780" width="2" height="1"/>
<rect x="1856" y="787" width="5" height="1"/>
<rect x="1856" y="794" width="2" height="1"/>
<rect x="1856" y="800" width="5" height="1"/>
<rect x="1856" y="807" width="2" height="1"/>
<rect x="1856" y="814" width="5" height="1"/>
<rect x="1856" y="820" width="2" height="1"/>
<rect x="1856" y="827" width="5" height="1"/>
<rect x="1856" y="834" width="2" height="1"/>
<rect x="1856" y="840" width="5" height="1"/>
<rect x="1856" y="847" width="2" height="1"/>
<rect x="1856" y="854" width="5" height="1"/>
<rect x="1856" y="860" width="2" height="1"/>
<rect x="1856" y="867" width="5" height="1"/>
<rect x="1856" y="874" width="2" height="1"/>
</g>
<g font-family="'Liberation Sans', sans-serif" font-size="8.7" fill="#222233" text-anchor="end" shape-rendering="auto">
<text x="1887.5" y="21.4">27.0</text>
<text x="1887.5" y="45.1">26.5</text>
<text x="1887.5" y="68.8">26.0</text>
<text x="1887.5" y="92.5">25.5</text>
<text x="1887.5" y="116.1">25.0</text>
<text x="1887.5" y="139.8">24.5</text>
<text x="1887.5" y="163.5">24.0</text>
<text x="1887.5" y="187.2">23.5</text>
<text x="1887.5" y="210.9">23.0</text>
<text x="1887.5" y="234.6">22.5</text>
<text x="1887.5" y="258.2">22.0</text>
<text x="1887.5" y="281.9">21.5</text>
<text x="1887.5" y="305.6">21.0</text>
<text x="1887.5" y="329.3">20.5</text>
<text x="1887.5" y="353.0">20.0</text>
<text x="1887.5" y="376.7">19.5</text>
<text x="1887.5" y="400.4">19.0</text>
<text x="1887.5" y="424.0">18.5</text>
<text x="1887.5" y="447.7">18.0</text>
<text x="1887.5" y="471.4">17.5</text>
<text x="1887.5" y="495.1">17.0</text>
<text x="1887.5" y="518.8">16.5</text>
<text x="1887.5" y="542.5">16.0</text>
<text x="1887.5" y="566.2">15.5</text>
<text x="1887.6" y="603.6">21000</text>
<text x="1887.6" y="617.0">20000</text>
<text x="1887.6" y="630.3">19000</text>
<text x="1887.6" y="643.7">18000</text>
<text x="1887.6" y="657.0">17000</text>
<text x="1887.6" y="670.4">16000</text>
<text x="1887.6" y="683.7">15000</text>
<text x="1887.6" y="697.1">14000</text>
<text x="1887.6" y="710.4">13000</text>
<text x="1887.6" y="723.8">12000</text>
<text x="1887.6" y="737.2">11000</text>
<text x="1887.6" y="750.5">10000</text>
<text x="1887.6" y="763.9">9000</text>
<text x="1887.6" y="777.2">8000</text>
<text x="1887.6" y="790.6">7000</text>
<text x="1887.6" y="803.9">6000</text>
<text x="1887.6" y="817.3">5000</text>
<text x="1887.6" y="830.6">4000</text>
<text x="1887.6" y="844.0">3000</text>
<text x="1887.6" y="857.3">2000</text>
<text x="1887.6" y="870.7">1000</text>
</g>
<path d="M1857.5 880V872.5H1873.5V880" fill="none" stroke="#000" stroke-width="1"/>
<text x="1858.6" y="878.3" font-family="'Liberation Sans', sans-serif" font-size="5.5" fill="#2b2b3b" shape-rendering="auto">x100</text>
<rect x="0" y="880" width="1855" height="1" fill="#000"/>
<rect x="0" y="891" width="1855" height="1" fill="#000"/>
<g fill="#000">
<rect x="17" y="880" width="1" height="12"/>
<rect x="41" y="880" width="1" height="12"/>
<rect x="67" y="880" width="1" height="12"/>
<rect x="92" y="880" width="1" height="12"/>
<rect x="117" y="880" width="1" height="12"/>
<rect x="142" y="880" width="1" height="12"/>
<rect x="166" y="880" width="1" height="12"/>
<rect x="192" y="880" width="1" height="12"/>
<rect x="217" y="880" width="1" height="12"/>
<rect x="242" y="880" width="1" height="12"/>
<rect x="267" y="880" width="1" height="12"/>
<rect x="287" y="880" width="1" height="12"/>
<rect x="312" y="880" width="1" height="12"/>
<rect x="336" y="880" width="1" height="12"/>
<rect x="362" y="880" width="1" height="12"/>
<rect x="387" y="880" width="1" height="12"/>
<rect x="412" y="880" width="1" height="12"/>
<rect x="437" y="880" width="1" height="12"/>
<rect x="461" y="880" width="1" height="12"/>
<rect x="487" y="880" width="1" height="12"/>
<rect x="512" y="880" width="1" height="12"/>
<rect x="537" y="880" width="1" height="12"/>
<rect x="562" y="880" width="1" height="12"/>
<rect x="586" y="880" width="1" height="12"/>
<rect x="612" y="880" width="1" height="12"/>
<rect x="637" y="880" width="1" height="12"/>
<rect x="662" y="880" width="1" height="12"/>
<rect x="687" y="880" width="1" height="12"/>
<rect x="711" y="880" width="1" height="12"/>
<rect x="737" y="880" width="1" height="12"/>
<rect x="747" y="880" width="1" height="12"/>
<rect x="762" y="880" width="1" height="12"/>
<rect x="787" y="880" width="1" height="12"/>
<rect x="812" y="880" width="1" height="12"/>
<rect x="836" y="880" width="1" height="12"/>
<rect x="862" y="880" width="1" height="12"/>
<rect x="887" y="880" width="1" height="12"/>
<rect x="912" y="880" width="1" height="12"/>
<rect x="937" y="880" width="1" height="12"/>
<rect x="961" y="880" width="1" height="12"/>
<rect x="987" y="880" width="1" height="12"/>
<rect x="1011" y="880" width="1" height="12"/>
<rect x="1037" y="880" width="1" height="12"/>
<rect x="1062" y="880" width="1" height="12"/>
<rect x="1086" y="880" width="1" height="12"/>
<rect x="1112" y="880" width="1" height="12"/>
<rect x="1131" y="880" width="1" height="12"/>
<rect x="1152" y="880" width="1" height="12"/>
<rect x="1171" y="880" width="1" height="12"/>
<rect x="1197" y="880" width="1" height="12"/>
<rect x="1221" y="880" width="1" height="12"/>
<rect x="1247" y="880" width="1" height="12"/>
<rect x="1272" y="880" width="1" height="12"/>
<rect x="1296" y="880" width="1" height="12"/>
<rect x="1322" y="880" width="1" height="12"/>
<rect x="1346" y="880" width="1" height="12"/>
<rect x="1372" y="880" width="1" height="12"/>
<rect x="1397" y="880" width="1" height="12"/>
<rect x="1422" y="880" width="1" height="12"/>
<rect x="1447" y="880" width="1" height="12"/>
<rect x="1471" y="880" width="1" height="12"/>
<rect x="1497" y="880" width="1" height="12"/>
<rect x="1522" y="880" width="1" height="12"/>
<rect x="1542" y="880" width="1" height="12"/>
<rect x="1567" y="880" width="1" height="12"/>
<rect x="1591" y="880" width="1" height="12"/>
<rect x="1617" y="880" width="1" height="12"/>
<rect x="1641" y="880" width="1" height="12"/>
<rect x="1667" y="880" width="1" height="12"/>
<rect x="1692" y="880" width="1" height="12"/>
<rect x="1716" y="880" width="1" height="12"/>
<rect x="1742" y="880" width="1" height="12"/>
<rect x="1766" y="880" width="1" height="12"/>
<rect x="1792" y="880" width="1" height="12"/>
<rect x="1817" y="880" width="1" height="12"/>
<rect x="1842" y="880" width="1" height="12"/>
<rect x="17" y="880" width="1" height="22"/>
<rect x="117" y="880" width="1" height="22"/>
<rect x="232" y="880" width="1" height="22"/>
<rect x="336" y="880" width="1" height="22"/>
<rect x="442" y="880" width="1" height="22"/>
<rect x="557" y="880" width="1" height="22"/>
<rect x="662" y="880" width="1" height="22"/>
<rect x="751" y="880" width="1" height="22"/>
<rect x="862" y="880" width="1" height="22"/>
<rect x="961" y="880" width="1" height="22"/>
<rect x="1067" y="880" width="1" height="22"/>
<rect x="1167" y="880" width="1" height="22"/>
<rect x="1272" y="880" width="1" height="22"/>
<rect x="1377" y="880" width="1" height="22"/>
<rect x="1492" y="880" width="1" height="22"/>
<rect x="1591" y="880" width="1" height="22"/>
<rect x="1702" y="880" width="1" height="22"/>
<rect x="1817" y="880" width="1" height="22"/>
</g>
<clipPath id="cb"><rect x="0" y="880" width="1855" height="22"/></clipPath>
<g clip-path="url(#cb)" font-family="'Liberation Sans', sans-serif" font-size="8.6" fill="#222233" shape-rendering="auto">
<text x="-5" y="889.3">27</text>
<text x="18.5" y="889.3">3</text>
<text x="42.5" y="889.3">10</text>
<text x="68.5" y="889.3">17</text>
<text x="93.5" y="889.3">24</text>
<text x="118.5" y="889.3">1</text>
<text x="143.5" y="889.3">8</text>
<text x="167.5" y="889.3">15</text>
<text x="193.5" y="889.3">22</text>
<text x="218.5" y="889.3">29</text>
<text x="243.5" y="889.3">5</text>
<text x="268.5" y="889.3">12</text>
<text x="288.5" y="889.3">19</text>
<text x="313.5" y="889.3">26</text>
<text x="337.5" y="889.3">2</text>
<text x="363.5" y="889.3">9</text>
<text x="388.5" y="889.3">16</text>
<text x="413.5" y="889.3">23</text>
<text x="438.5" y="889.3">30</text>
<text x="462.5" y="889.3">7</text>
<text x="488.5" y="889.3">14</text>
<text x="513.5" y="889.3">21</text>
<text x="538.5" y="889.3">28</text>
<text x="563.5" y="889.3">4</text>
<text x="587.5" y="889.3">11</text>
<text x="613.5" y="889.3">18</text>
<text x="638.5" y="889.3">25</text>
<text x="663.5" y="889.3">2</text>
<text x="688.5" y="889.3">9</text>
<text x="712.5" y="889.3">16</text>
<text x="738.5" y="889.3">23</text>
<text x="763.5" y="889.3">6</text>
<text x="788.5" y="889.3">13</text>
<text x="813.5" y="889.3">20</text>
<text x="837.5" y="889.3">27</text>
<text x="863.5" y="889.3">3</text>
<text x="888.5" y="889.3">10</text>
<text x="913.5" y="889.3">17</text>
<text x="938.5" y="889.3">24</text>
<text x="962.5" y="889.3">3</text>
<text x="988.5" y="889.3">10</text>
<text x="1012.5" y="889.3">17</text>
<text x="1038.5" y="889.3">24</text>
<text x="1063.5" y="889.3">31</text>
<text x="1087.5" y="889.3">7</text>
<text x="1113.5" y="889.3">14</text>
<text x="1132.5" y="889.3">22</text>
<text x="1153.5" y="889.3">28</text>
<text x="1172.5" y="889.3">5</text>
<text x="1198.5" y="889.3">12</text>
<text x="1222.5" y="889.3">19</text>
<text x="1248.5" y="889.3">26</text>
<text x="1273.5" y="889.3">2</text>
<text x="1297.5" y="889.3">9</text>
<text x="1323.5" y="889.3">16</text>
<text x="1347.5" y="889.3">23</text>
<text x="1373.5" y="889.3">30</text>
<text x="1398.5" y="889.3">7</text>
<text x="1423.5" y="889.3">14</text>
<text x="1448.5" y="889.3">21</text>
<text x="1472.5" y="889.3">28</text>
<text x="1498.5" y="889.3">4</text>
<text x="1523.5" y="889.3">11</text>
<text x="1543.5" y="889.3">18</text>
<text x="1568.5" y="889.3">25</text>
<text x="1592.5" y="889.3">1</text>
<text x="1618.5" y="889.3">8</text>
<text x="1642.5" y="889.3">15</text>
<text x="1668.5" y="889.3">22</text>
<text x="1693.5" y="889.3">29</text>
<text x="1717.5" y="889.3">6</text>
<text x="1743.5" y="889.3">13</text>
<text x="1767.5" y="889.3">20</text>
<text x="1793.5" y="889.3">27</text>
<text x="1818.5" y="889.3">3</text>
<text x="1843.5" y="889.3">10</text>
<text x="18.0" y="899.8">June</text>
<text x="118.0" y="899.8">July</text>
<text x="233.0" y="899.8">August</text>
<text x="337.0" y="899.8">September</text>
<text x="443.0" y="899.8">October</text>
<text x="558.0" y="899.8">November</text>
<text x="663.0" y="899.8">December</text>
<text x="752.0" y="899.8">2025</text>
<text x="863.0" y="899.8">February</text>
<text x="962.0" y="899.8">March</text>
<text x="1068.0" y="899.8">April</text>
<text x="1168.0" y="899.8">May</text>
<text x="1273.0" y="899.8">June</text>
<text x="1378.0" y="899.8">July</text>
<text x="1493.0" y="899.8">August</text>
<text x="1592.0" y="899.8">September</text>
<text x="1703.0" y="899.8">October</text>
<text x="1818.0" y="899.8">November</text>
</g>
<text x="829" y="11" font-family="'Liberation Sans', sans-serif" font-size="8.6" fill="#2c2c3c" textLength="196" lengthAdjust="spacing" shape-rendering="auto">ERG (22.3800, 22.5000, 22.2800, 22.3800, +0.000)</text>
<rect x="780.5" y="17.5" width="447" height="69" fill="#ffffe1" stroke="#000" stroke-width="1"/>
<g font-family="'Liberation Sans', sans-serif" font-size="14.7" font-weight="bold" fill="#000" shape-rendering="auto">
<text x="782.3" y="30" textLength="413" lengthAdjust="spacing">Erg fa i 22,28 e si ferma sui 22,38 in prima piccola reazione</text>
<text x="782.3" y="47.6" textLength="442.5" lengthAdjust="spacing">senza volumi. Aspettavo i 22,2 per entrare e non ho anticipato.</text>
<text x="783.2" y="65" textLength="426" lengthAdjust="spacing">Siamo in consolidamento rialzista sotto i massimi di periodo.</text>
<text x="783.2" y="82.5" textLength="242" lengthAdjust="spacing">Male sotto i 22,10, bene sopra i 23.</text>
</g>
</svg>
</body></html>
